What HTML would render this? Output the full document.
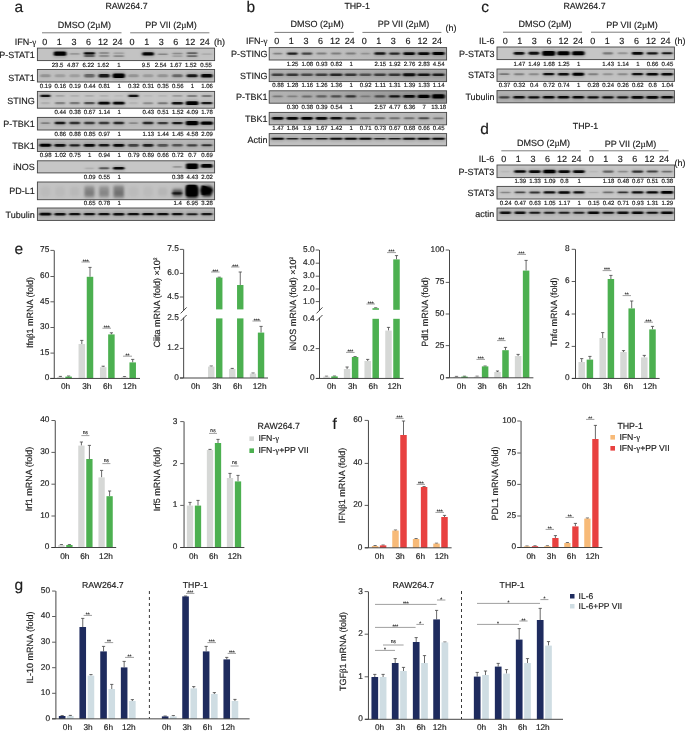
<!DOCTYPE html>
<html><head><meta charset="utf-8"><title>Figure</title>
<style>
html,body{margin:0;padding:0;background:#fff;}
svg{display:block;font-family:"Liberation Sans",sans-serif;text-rendering:geometricPrecision;}
text{stroke:#1c1c1c;stroke-width:0.16px;}
</style></head><body>
<svg width="685" height="731" viewBox="0 0 685 731">
<defs>
<filter id="b1" x="-5%" y="-50%" width="110%" height="200%"><feGaussianBlur stdDeviation="0.85 0.65"/></filter>
<filter id="h1" x="-5%" y="-50%" width="110%" height="200%"><feGaussianBlur stdDeviation="1.8 1.6"/></filter>
<filter id="h2" x="-5%" y="-50%" width="110%" height="200%"><feGaussianBlur stdDeviation="2.2 2.4"/></filter>
<filter id="b2" x="-5%" y="-50%" width="110%" height="200%"><feGaussianBlur stdDeviation="1.2 1.6"/></filter>
</defs>
<rect width="685" height="731" fill="#fff"/>
<text x="14.60" y="11.70" font-size="15.50" text-anchor="start" fill="#1c1c1c">a</text>
<text x="105.40" y="8.80" font-size="8.80" text-anchor="start" fill="#1c1c1c">RAW264.7</text>
<text x="84.30" y="28.00" font-size="9.00" text-anchor="middle" fill="#1c1c1c">DMSO (2<tspan font-family="Liberation Serif, serif">µ</tspan>M)</text>
<text x="171.10" y="28.00" font-size="9.00" text-anchor="middle" fill="#1c1c1c">PP VII (2<tspan font-family="Liberation Serif, serif">µ</tspan>M)</text>
<line x1="42.00" y1="32.80" x2="121.50" y2="32.80" stroke="#7c7c7c" stroke-width="1.00"/>
<line x1="130.20" y1="32.80" x2="209.40" y2="32.80" stroke="#7c7c7c" stroke-width="1.00"/>
<text x="36.20" y="45.20" font-size="9.00" text-anchor="end" fill="#1c1c1c">IFN-<tspan font-family="Liberation Serif, serif">γ</tspan></text>
<text x="44.80" y="44.90" font-size="9.00" text-anchor="middle" fill="#1c1c1c">0</text>
<text x="59.35" y="44.90" font-size="9.00" text-anchor="middle" fill="#1c1c1c">1</text>
<text x="73.90" y="44.90" font-size="9.00" text-anchor="middle" fill="#1c1c1c">3</text>
<text x="88.45" y="44.90" font-size="9.00" text-anchor="middle" fill="#1c1c1c">6</text>
<text x="103.00" y="44.90" font-size="9.00" text-anchor="middle" fill="#1c1c1c">12</text>
<text x="117.55" y="44.90" font-size="9.00" text-anchor="middle" fill="#1c1c1c">24</text>
<text x="132.10" y="44.90" font-size="9.00" text-anchor="middle" fill="#1c1c1c">0</text>
<text x="146.65" y="44.90" font-size="9.00" text-anchor="middle" fill="#1c1c1c">1</text>
<text x="161.20" y="44.90" font-size="9.00" text-anchor="middle" fill="#1c1c1c">3</text>
<text x="175.75" y="44.90" font-size="9.00" text-anchor="middle" fill="#1c1c1c">6</text>
<text x="190.30" y="44.90" font-size="9.00" text-anchor="middle" fill="#1c1c1c">12</text>
<text x="204.85" y="44.90" font-size="9.00" text-anchor="middle" fill="#1c1c1c">24</text>
<text x="214.00" y="45.20" font-size="9.00" text-anchor="start" fill="#1c1c1c">(h)</text>
<clipPath id="c20"><rect x="37.40" y="48.10" width="177.20" height="12.50"/></clipPath>
<rect x="37.40" y="48.10" width="177.20" height="12.50" fill="#c3c3c3"/>
<g clip-path="url(#c20)">
<g filter="url(#h1)">
<rect x="53.12" y="50.15" width="13.90" height="7.00" rx="1.60" fill="#000" fill-opacity="0.20"/>
<rect x="68.99" y="51.95" width="11.50" height="4.00" rx="1.60" fill="#000" fill-opacity="0.04"/>
<rect x="83.16" y="51.15" width="12.50" height="4.40" rx="1.60" fill="#000" fill-opacity="0.19"/>
<rect x="98.33" y="51.30" width="11.50" height="3.50" rx="1.60" fill="#000" fill-opacity="0.06"/>
<rect x="112.75" y="51.40" width="12.00" height="3.50" rx="1.60" fill="#000" fill-opacity="0.04"/>
<rect x="141.54" y="50.95" width="13.10" height="5.80" rx="1.60" fill="#000" fill-opacity="0.19"/>
<rect x="157.01" y="52.35" width="11.50" height="3.60" rx="1.60" fill="#000" fill-opacity="0.06"/>
<rect x="171.68" y="51.80" width="11.50" height="3.50" rx="1.60" fill="#000" fill-opacity="0.05"/>
<rect x="186.10" y="51.30" width="12.00" height="3.70" rx="1.60" fill="#000" fill-opacity="0.09"/>
<rect x="201.02" y="52.25" width="11.50" height="3.80" rx="1.60" fill="#000" fill-opacity="0.02"/>
<rect x="83.41" y="54.00" width="12.00" height="4.20" rx="1.60" fill="#000" fill-opacity="0.09"/>
<rect x="98.33" y="54.30" width="11.50" height="3.60" rx="1.60" fill="#000" fill-opacity="0.06"/>
<rect x="112.75" y="54.20" width="12.00" height="3.80" rx="1.60" fill="#000" fill-opacity="0.05"/>
<rect x="171.68" y="54.35" width="11.50" height="3.50" rx="1.60" fill="#000" fill-opacity="0.04"/>
<rect x="186.10" y="54.25" width="12.00" height="3.70" rx="1.60" fill="#000" fill-opacity="0.08"/>
</g>
<g filter="url(#b1)">
<rect x="53.87" y="51.50" width="12.40" height="4.30" rx="1.60" fill="#000" fill-opacity="1.00"/>
<rect x="69.74" y="53.03" width="10.00" height="1.84" rx="0.92" fill="#000" fill-opacity="0.20"/>
<rect x="83.91" y="52.27" width="11.00" height="2.17" rx="1.08" fill="#000" fill-opacity="0.95"/>
<rect x="99.08" y="52.34" width="10.00" height="1.43" rx="0.71" fill="#000" fill-opacity="0.30"/>
<rect x="113.50" y="52.43" width="10.50" height="1.43" rx="0.71" fill="#000" fill-opacity="0.20"/>
<rect x="142.29" y="52.19" width="11.60" height="3.32" rx="1.60" fill="#000" fill-opacity="0.97"/>
<rect x="157.76" y="53.39" width="10.00" height="1.51" rx="0.76" fill="#000" fill-opacity="0.28"/>
<rect x="172.43" y="52.84" width="10.00" height="1.43" rx="0.71" fill="#000" fill-opacity="0.25"/>
<rect x="186.85" y="52.35" width="10.50" height="1.59" rx="0.80" fill="#000" fill-opacity="0.45"/>
<rect x="201.77" y="53.31" width="10.00" height="1.68" rx="0.84" fill="#000" fill-opacity="0.10"/>
<rect x="84.16" y="55.10" width="10.50" height="2.00" rx="1.00" fill="#000" fill-opacity="0.45"/>
<rect x="99.08" y="55.34" width="10.00" height="1.51" rx="0.76" fill="#000" fill-opacity="0.30"/>
<rect x="113.50" y="55.26" width="10.50" height="1.68" rx="0.84" fill="#000" fill-opacity="0.26"/>
<rect x="172.43" y="55.38" width="10.00" height="1.43" rx="0.71" fill="#000" fill-opacity="0.20"/>
<rect x="186.85" y="55.30" width="10.50" height="1.59" rx="0.80" fill="#000" fill-opacity="0.40"/>
</g>
</g>
<rect x="37.40" y="48.10" width="177.20" height="12.50" fill="none" stroke="#444" stroke-width="0.9"/>
<text x="57.60" y="66.90" font-size="6.00" text-anchor="middle" fill="#222">23.5</text>
<text x="72.90" y="66.90" font-size="6.00" text-anchor="middle" fill="#222">4.87</text>
<text x="88.30" y="66.90" font-size="6.00" text-anchor="middle" fill="#222">6.22</text>
<text x="103.20" y="66.90" font-size="6.00" text-anchor="middle" fill="#222">1.62</text>
<text x="119.00" y="66.90" font-size="6.00" text-anchor="middle" fill="#222">1</text>
<text x="146.00" y="66.90" font-size="6.00" text-anchor="middle" fill="#222">9.5</text>
<text x="160.60" y="66.90" font-size="6.00" text-anchor="middle" fill="#222">2.54</text>
<text x="175.90" y="66.90" font-size="6.00" text-anchor="middle" fill="#222">1.67</text>
<text x="190.80" y="66.90" font-size="6.00" text-anchor="middle" fill="#222">1.52</text>
<text x="206.10" y="66.90" font-size="6.00" text-anchor="middle" fill="#222">0.55</text>
<clipPath id="c69"><rect x="37.40" y="69.50" width="177.20" height="12.50"/></clipPath>
<rect x="37.40" y="69.50" width="177.20" height="12.50" fill="#c0c0c0"/>
<g clip-path="url(#c69)">
<g filter="url(#h1)">
<rect x="39.40" y="72.95" width="12.00" height="5.60" rx="1.60" fill="#000" fill-opacity="0.04"/>
<rect x="54.07" y="72.95" width="12.00" height="5.60" rx="1.60" fill="#000" fill-opacity="0.03"/>
<rect x="68.74" y="72.95" width="12.00" height="5.60" rx="1.60" fill="#000" fill-opacity="0.03"/>
<rect x="83.41" y="72.85" width="12.00" height="5.80" rx="1.60" fill="#000" fill-opacity="0.08"/>
<rect x="97.83" y="72.75" width="12.50" height="6.00" rx="1.60" fill="#000" fill-opacity="0.17"/>
<rect x="112.00" y="72.25" width="13.50" height="7.00" rx="1.60" fill="#000" fill-opacity="0.20"/>
<rect x="127.42" y="72.95" width="12.00" height="5.60" rx="1.60" fill="#000" fill-opacity="0.04"/>
<rect x="142.09" y="72.95" width="12.00" height="5.60" rx="1.60" fill="#000" fill-opacity="0.03"/>
<rect x="156.76" y="72.95" width="12.00" height="5.60" rx="1.60" fill="#000" fill-opacity="0.04"/>
<rect x="171.43" y="72.95" width="12.00" height="5.60" rx="1.60" fill="#000" fill-opacity="0.08"/>
<rect x="185.85" y="72.95" width="12.50" height="5.60" rx="1.60" fill="#000" fill-opacity="0.17"/>
<rect x="200.27" y="72.75" width="13.00" height="6.00" rx="1.60" fill="#000" fill-opacity="0.19"/>
</g>
<g filter="url(#b1)">
<rect x="40.15" y="74.17" width="10.50" height="3.15" rx="1.58" fill="#000" fill-opacity="0.20"/>
<rect x="54.82" y="74.17" width="10.50" height="3.15" rx="1.58" fill="#000" fill-opacity="0.15"/>
<rect x="69.49" y="74.17" width="10.50" height="3.15" rx="1.58" fill="#000" fill-opacity="0.15"/>
<rect x="84.16" y="74.09" width="10.50" height="3.32" rx="1.60" fill="#000" fill-opacity="0.42"/>
<rect x="98.58" y="74.01" width="11.00" height="3.48" rx="1.60" fill="#000" fill-opacity="0.85"/>
<rect x="112.75" y="73.60" width="12.00" height="4.30" rx="1.60" fill="#000" fill-opacity="1.00"/>
<rect x="128.17" y="74.17" width="10.50" height="3.15" rx="1.58" fill="#000" fill-opacity="0.20"/>
<rect x="142.84" y="74.17" width="10.50" height="3.15" rx="1.58" fill="#000" fill-opacity="0.17"/>
<rect x="157.51" y="74.17" width="10.50" height="3.15" rx="1.58" fill="#000" fill-opacity="0.20"/>
<rect x="172.18" y="74.17" width="10.50" height="3.15" rx="1.58" fill="#000" fill-opacity="0.42"/>
<rect x="186.60" y="74.17" width="11.00" height="3.15" rx="1.58" fill="#000" fill-opacity="0.85"/>
<rect x="201.02" y="74.01" width="11.50" height="3.48" rx="1.60" fill="#000" fill-opacity="0.95"/>
</g>
</g>
<rect x="37.40" y="69.50" width="177.20" height="12.50" fill="none" stroke="#444" stroke-width="0.9"/>
<text x="45.70" y="87.70" font-size="6.00" text-anchor="middle" fill="#222">0.19</text>
<text x="60.37" y="87.70" font-size="6.00" text-anchor="middle" fill="#222">0.16</text>
<text x="75.04" y="87.70" font-size="6.00" text-anchor="middle" fill="#222">0.19</text>
<text x="89.71" y="87.70" font-size="6.00" text-anchor="middle" fill="#222">0.44</text>
<text x="104.38" y="87.70" font-size="6.00" text-anchor="middle" fill="#222">0.81</text>
<text x="119.05" y="87.70" font-size="6.00" text-anchor="middle" fill="#222">1</text>
<text x="133.72" y="87.70" font-size="6.00" text-anchor="middle" fill="#222">0.32</text>
<text x="148.39" y="87.70" font-size="6.00" text-anchor="middle" fill="#222">0.31</text>
<text x="163.06" y="87.70" font-size="6.00" text-anchor="middle" fill="#222">0.35</text>
<text x="177.73" y="87.70" font-size="6.00" text-anchor="middle" fill="#222">0.56</text>
<text x="192.40" y="87.70" font-size="6.00" text-anchor="middle" fill="#222">1</text>
<text x="207.07" y="87.70" font-size="6.00" text-anchor="middle" fill="#222">1.06</text>
<clipPath id="c114"><rect x="37.40" y="91.40" width="177.20" height="16.80"/></clipPath>
<rect x="37.40" y="91.40" width="177.20" height="16.80" fill="#c6c6c6"/>
<g clip-path="url(#c114)">
<g filter="url(#h1)">
<rect x="39.65" y="93.74" width="11.50" height="4.40" rx="1.60" fill="#000" fill-opacity="0.18"/>
<rect x="54.82" y="93.94" width="10.50" height="4.00" rx="1.60" fill="#000" fill-opacity="0.03"/>
<rect x="69.49" y="93.94" width="10.50" height="4.00" rx="1.60" fill="#000" fill-opacity="0.02"/>
<rect x="84.16" y="93.94" width="10.50" height="4.00" rx="1.60" fill="#000" fill-opacity="0.02"/>
<rect x="98.83" y="93.94" width="10.50" height="4.00" rx="1.60" fill="#000" fill-opacity="0.02"/>
<rect x="113.50" y="93.94" width="10.50" height="4.00" rx="1.60" fill="#000" fill-opacity="0.01"/>
<rect x="127.67" y="93.74" width="11.50" height="4.40" rx="1.60" fill="#000" fill-opacity="0.18"/>
<rect x="142.84" y="93.94" width="10.50" height="4.00" rx="1.60" fill="#000" fill-opacity="0.01"/>
<rect x="157.51" y="93.94" width="10.50" height="4.00" rx="1.60" fill="#000" fill-opacity="0.02"/>
<rect x="171.68" y="93.94" width="11.50" height="4.00" rx="1.60" fill="#000" fill-opacity="0.04"/>
<rect x="186.35" y="93.84" width="11.50" height="4.20" rx="1.60" fill="#000" fill-opacity="0.06"/>
<rect x="201.02" y="93.84" width="11.50" height="4.20" rx="1.60" fill="#000" fill-opacity="0.07"/>
<rect x="40.15" y="100.96" width="10.50" height="4.40" rx="1.60" fill="#000" fill-opacity="0.02"/>
<rect x="54.32" y="100.96" width="11.50" height="4.40" rx="1.60" fill="#000" fill-opacity="0.06"/>
<rect x="68.99" y="100.96" width="11.50" height="4.40" rx="1.60" fill="#000" fill-opacity="0.07"/>
<rect x="83.41" y="100.86" width="12.00" height="4.60" rx="1.60" fill="#000" fill-opacity="0.11"/>
<rect x="97.58" y="100.56" width="13.00" height="5.20" rx="1.60" fill="#000" fill-opacity="0.19"/>
<rect x="112.25" y="100.66" width="13.00" height="5.00" rx="1.60" fill="#000" fill-opacity="0.19"/>
<rect x="128.17" y="100.96" width="10.50" height="4.40" rx="1.60" fill="#000" fill-opacity="0.02"/>
<rect x="142.34" y="101.06" width="11.50" height="4.20" rx="1.60" fill="#000" fill-opacity="0.05"/>
<rect x="157.01" y="101.06" width="11.50" height="4.20" rx="1.60" fill="#000" fill-opacity="0.07"/>
<rect x="171.18" y="100.76" width="12.50" height="4.80" rx="1.60" fill="#000" fill-opacity="0.18"/>
<rect x="185.10" y="99.96" width="14.00" height="6.40" rx="1.60" fill="#000" fill-opacity="0.20"/>
<rect x="200.52" y="100.96" width="12.50" height="4.40" rx="1.60" fill="#000" fill-opacity="0.17"/>
</g>
<g filter="url(#b1)">
<rect x="40.40" y="94.85" width="10.00" height="2.17" rx="1.08" fill="#000" fill-opacity="0.90"/>
<rect x="55.57" y="95.02" width="9.00" height="1.84" rx="0.92" fill="#000" fill-opacity="0.15"/>
<rect x="70.24" y="95.02" width="9.00" height="1.84" rx="0.92" fill="#000" fill-opacity="0.10"/>
<rect x="84.91" y="95.02" width="9.00" height="1.84" rx="0.92" fill="#000" fill-opacity="0.12"/>
<rect x="99.58" y="95.02" width="9.00" height="1.84" rx="0.92" fill="#000" fill-opacity="0.10"/>
<rect x="114.25" y="95.02" width="9.00" height="1.84" rx="0.92" fill="#000" fill-opacity="0.06"/>
<rect x="128.42" y="94.85" width="10.00" height="2.17" rx="1.08" fill="#000" fill-opacity="0.90"/>
<rect x="143.59" y="95.02" width="9.00" height="1.84" rx="0.92" fill="#000" fill-opacity="0.06"/>
<rect x="158.26" y="95.02" width="9.00" height="1.84" rx="0.92" fill="#000" fill-opacity="0.08"/>
<rect x="172.43" y="95.02" width="10.00" height="1.84" rx="0.92" fill="#000" fill-opacity="0.20"/>
<rect x="187.10" y="94.93" width="10.00" height="2.00" rx="1.00" fill="#000" fill-opacity="0.32"/>
<rect x="201.77" y="94.93" width="10.00" height="2.00" rx="1.00" fill="#000" fill-opacity="0.35"/>
<rect x="40.90" y="102.08" width="9.00" height="2.17" rx="1.08" fill="#000" fill-opacity="0.10"/>
<rect x="55.07" y="102.08" width="10.00" height="2.17" rx="1.08" fill="#000" fill-opacity="0.30"/>
<rect x="69.74" y="102.08" width="10.00" height="2.17" rx="1.08" fill="#000" fill-opacity="0.35"/>
<rect x="84.16" y="101.99" width="10.50" height="2.33" rx="1.17" fill="#000" fill-opacity="0.55"/>
<rect x="98.33" y="101.75" width="11.50" height="2.82" rx="1.41" fill="#000" fill-opacity="0.95"/>
<rect x="113.00" y="101.83" width="11.50" height="2.66" rx="1.33" fill="#000" fill-opacity="0.95"/>
<rect x="128.92" y="102.08" width="9.00" height="2.17" rx="1.08" fill="#000" fill-opacity="0.08"/>
<rect x="143.09" y="102.16" width="10.00" height="2.00" rx="1.00" fill="#000" fill-opacity="0.25"/>
<rect x="157.76" y="102.16" width="10.00" height="2.00" rx="1.00" fill="#000" fill-opacity="0.35"/>
<rect x="171.93" y="101.91" width="11.00" height="2.50" rx="1.25" fill="#000" fill-opacity="0.90"/>
<rect x="185.85" y="101.26" width="12.50" height="3.81" rx="1.60" fill="#000" fill-opacity="1.00"/>
<rect x="201.27" y="102.08" width="11.00" height="2.17" rx="1.08" fill="#000" fill-opacity="0.85"/>
</g>
</g>
<rect x="37.40" y="91.40" width="177.20" height="16.80" fill="none" stroke="#444" stroke-width="0.9"/>
<text x="60.37" y="113.70" font-size="6.00" text-anchor="middle" fill="#222">0.44</text>
<text x="75.04" y="113.70" font-size="6.00" text-anchor="middle" fill="#222">0.38</text>
<text x="89.71" y="113.70" font-size="6.00" text-anchor="middle" fill="#222">0.67</text>
<text x="104.38" y="113.70" font-size="6.00" text-anchor="middle" fill="#222">1.14</text>
<text x="119.05" y="113.70" font-size="6.00" text-anchor="middle" fill="#222">1</text>
<text x="148.39" y="113.70" font-size="6.00" text-anchor="middle" fill="#222">0.43</text>
<text x="163.06" y="113.70" font-size="6.00" text-anchor="middle" fill="#222">0.51</text>
<text x="177.73" y="113.70" font-size="6.00" text-anchor="middle" fill="#222">1.52</text>
<text x="192.40" y="113.70" font-size="6.00" text-anchor="middle" fill="#222">4.09</text>
<text x="207.07" y="113.70" font-size="6.00" text-anchor="middle" fill="#222">1.78</text>
<clipPath id="c181"><rect x="37.40" y="117.40" width="177.20" height="12.60"/></clipPath>
<rect x="37.40" y="117.40" width="177.20" height="12.60" fill="#bdbdbd"/>
<g clip-path="url(#c181)">
<g filter="url(#h1)">
<rect x="40.15" y="121.07" width="10.50" height="4.00" rx="1.60" fill="#000" fill-opacity="0.06"/>
<rect x="54.07" y="120.67" width="12.00" height="4.80" rx="1.60" fill="#000" fill-opacity="0.17"/>
<rect x="68.74" y="120.67" width="12.00" height="4.80" rx="1.60" fill="#000" fill-opacity="0.14"/>
<rect x="83.41" y="120.67" width="12.00" height="4.80" rx="1.60" fill="#000" fill-opacity="0.13"/>
<rect x="98.08" y="120.67" width="12.00" height="4.80" rx="1.60" fill="#000" fill-opacity="0.13"/>
<rect x="112.75" y="120.67" width="12.00" height="4.80" rx="1.60" fill="#000" fill-opacity="0.15"/>
<rect x="128.17" y="121.07" width="10.50" height="4.00" rx="1.60" fill="#000" fill-opacity="0.05"/>
<rect x="142.09" y="120.67" width="12.00" height="4.80" rx="1.60" fill="#000" fill-opacity="0.15"/>
<rect x="156.76" y="120.77" width="12.00" height="4.60" rx="1.60" fill="#000" fill-opacity="0.13"/>
<rect x="171.43" y="120.77" width="12.00" height="4.60" rx="1.60" fill="#000" fill-opacity="0.17"/>
<rect x="185.10" y="119.57" width="14.00" height="7.00" rx="1.60" fill="#000" fill-opacity="0.20"/>
<rect x="200.02" y="120.17" width="13.50" height="5.80" rx="1.60" fill="#000" fill-opacity="0.20"/>
</g>
<g filter="url(#b1)">
<rect x="40.90" y="122.15" width="9.00" height="1.84" rx="0.92" fill="#000" fill-opacity="0.30"/>
<rect x="54.82" y="121.82" width="10.50" height="2.50" rx="1.25" fill="#000" fill-opacity="0.85"/>
<rect x="69.49" y="121.82" width="10.50" height="2.50" rx="1.25" fill="#000" fill-opacity="0.70"/>
<rect x="84.16" y="121.82" width="10.50" height="2.50" rx="1.25" fill="#000" fill-opacity="0.65"/>
<rect x="98.83" y="121.82" width="10.50" height="2.50" rx="1.25" fill="#000" fill-opacity="0.65"/>
<rect x="113.50" y="121.82" width="10.50" height="2.50" rx="1.25" fill="#000" fill-opacity="0.75"/>
<rect x="128.92" y="122.15" width="9.00" height="1.84" rx="0.92" fill="#000" fill-opacity="0.25"/>
<rect x="142.84" y="121.82" width="10.50" height="2.50" rx="1.25" fill="#000" fill-opacity="0.75"/>
<rect x="157.51" y="121.90" width="10.50" height="2.33" rx="1.17" fill="#000" fill-opacity="0.65"/>
<rect x="172.18" y="121.90" width="10.50" height="2.33" rx="1.17" fill="#000" fill-opacity="0.85"/>
<rect x="185.85" y="120.92" width="12.50" height="4.30" rx="1.60" fill="#000" fill-opacity="1.00"/>
<rect x="200.77" y="121.41" width="12.00" height="3.32" rx="1.60" fill="#000" fill-opacity="1.00"/>
</g>
</g>
<rect x="37.40" y="117.40" width="177.20" height="12.60" fill="none" stroke="#444" stroke-width="0.9"/>
<text x="60.37" y="135.70" font-size="6.00" text-anchor="middle" fill="#222">0.86</text>
<text x="75.04" y="135.70" font-size="6.00" text-anchor="middle" fill="#222">0.88</text>
<text x="89.71" y="135.70" font-size="6.00" text-anchor="middle" fill="#222">0.85</text>
<text x="104.38" y="135.70" font-size="6.00" text-anchor="middle" fill="#222">0.97</text>
<text x="119.05" y="135.70" font-size="6.00" text-anchor="middle" fill="#222">1</text>
<text x="148.39" y="135.70" font-size="6.00" text-anchor="middle" fill="#222">1.13</text>
<text x="163.06" y="135.70" font-size="6.00" text-anchor="middle" fill="#222">1.44</text>
<text x="177.73" y="135.70" font-size="6.00" text-anchor="middle" fill="#222">1.45</text>
<text x="192.40" y="135.70" font-size="6.00" text-anchor="middle" fill="#222">4.58</text>
<text x="207.07" y="135.70" font-size="6.00" text-anchor="middle" fill="#222">2.09</text>
<clipPath id="c224"><rect x="37.40" y="139.20" width="177.20" height="12.30"/></clipPath>
<rect x="37.40" y="139.20" width="177.20" height="12.30" fill="#b8b8b8"/>
<g clip-path="url(#c224)">
<g filter="url(#h1)">
<rect x="38.90" y="142.65" width="13.00" height="5.40" rx="1.60" fill="#000" fill-opacity="0.20"/>
<rect x="53.82" y="142.85" width="12.50" height="5.00" rx="1.60" fill="#000" fill-opacity="0.18"/>
<rect x="68.74" y="143.05" width="12.00" height="4.60" rx="1.60" fill="#000" fill-opacity="0.16"/>
<rect x="83.16" y="142.85" width="12.50" height="5.00" rx="1.60" fill="#000" fill-opacity="0.19"/>
<rect x="98.08" y="142.95" width="12.00" height="4.80" rx="1.60" fill="#000" fill-opacity="0.17"/>
<rect x="112.50" y="142.75" width="12.50" height="5.20" rx="1.60" fill="#000" fill-opacity="0.19"/>
<rect x="127.42" y="142.75" width="12.00" height="5.20" rx="1.60" fill="#000" fill-opacity="0.12"/>
<rect x="142.09" y="142.85" width="12.00" height="5.00" rx="1.60" fill="#000" fill-opacity="0.16"/>
<rect x="156.76" y="142.85" width="12.00" height="5.00" rx="1.60" fill="#000" fill-opacity="0.10"/>
<rect x="171.43" y="142.95" width="12.00" height="4.80" rx="1.60" fill="#000" fill-opacity="0.10"/>
<rect x="186.10" y="143.15" width="12.00" height="4.40" rx="1.60" fill="#000" fill-opacity="0.12"/>
<rect x="200.77" y="143.25" width="12.00" height="4.20" rx="1.60" fill="#000" fill-opacity="0.14"/>
</g>
<g filter="url(#b1)">
<rect x="39.65" y="143.86" width="11.50" height="2.99" rx="1.49" fill="#000" fill-opacity="1.00"/>
<rect x="54.57" y="144.02" width="11.00" height="2.66" rx="1.33" fill="#000" fill-opacity="0.90"/>
<rect x="69.49" y="144.18" width="10.50" height="2.33" rx="1.17" fill="#000" fill-opacity="0.80"/>
<rect x="83.91" y="144.02" width="11.00" height="2.66" rx="1.33" fill="#000" fill-opacity="0.95"/>
<rect x="98.83" y="144.10" width="10.50" height="2.50" rx="1.25" fill="#000" fill-opacity="0.85"/>
<rect x="113.25" y="143.94" width="11.00" height="2.82" rx="1.41" fill="#000" fill-opacity="0.95"/>
<rect x="128.17" y="143.94" width="10.50" height="2.82" rx="1.41" fill="#000" fill-opacity="0.60"/>
<rect x="142.84" y="144.02" width="10.50" height="2.66" rx="1.33" fill="#000" fill-opacity="0.80"/>
<rect x="157.51" y="144.02" width="10.50" height="2.66" rx="1.33" fill="#000" fill-opacity="0.50"/>
<rect x="172.18" y="144.10" width="10.50" height="2.50" rx="1.25" fill="#000" fill-opacity="0.50"/>
<rect x="186.85" y="144.27" width="10.50" height="2.17" rx="1.08" fill="#000" fill-opacity="0.60"/>
<rect x="201.52" y="144.35" width="10.50" height="2.00" rx="1.00" fill="#000" fill-opacity="0.70"/>
</g>
</g>
<rect x="37.40" y="139.20" width="177.20" height="12.30" fill="none" stroke="#444" stroke-width="0.9"/>
<text x="45.70" y="157.30" font-size="6.00" text-anchor="middle" fill="#222">0.98</text>
<text x="60.37" y="157.30" font-size="6.00" text-anchor="middle" fill="#222">1.02</text>
<text x="75.04" y="157.30" font-size="6.00" text-anchor="middle" fill="#222">0.75</text>
<text x="89.71" y="157.30" font-size="6.00" text-anchor="middle" fill="#222">1</text>
<text x="104.38" y="157.30" font-size="6.00" text-anchor="middle" fill="#222">0.94</text>
<text x="119.05" y="157.30" font-size="6.00" text-anchor="middle" fill="#222">1</text>
<text x="133.72" y="157.30" font-size="6.00" text-anchor="middle" fill="#222">0.79</text>
<text x="148.39" y="157.30" font-size="6.00" text-anchor="middle" fill="#222">0.89</text>
<text x="163.06" y="157.30" font-size="6.00" text-anchor="middle" fill="#222">0.66</text>
<text x="177.73" y="157.30" font-size="6.00" text-anchor="middle" fill="#222">0.72</text>
<text x="192.40" y="157.30" font-size="6.00" text-anchor="middle" fill="#222">0.7</text>
<text x="207.07" y="157.30" font-size="6.00" text-anchor="middle" fill="#222">0.69</text>
<clipPath id="c269"><rect x="37.40" y="160.80" width="177.20" height="12.10"/></clipPath>
<rect x="37.40" y="160.80" width="177.20" height="12.10" fill="#c6c6c6"/>
<g clip-path="url(#c269)">
<g filter="url(#h1)">
<rect x="84.16" y="166.40" width="10.50" height="3.80" rx="1.60" fill="#000" fill-opacity="0.02"/>
<rect x="98.33" y="166.20" width="11.50" height="4.20" rx="1.60" fill="#000" fill-opacity="0.10"/>
<rect x="112.50" y="165.90" width="12.50" height="4.80" rx="1.60" fill="#000" fill-opacity="0.19"/>
<rect x="172.18" y="165.00" width="10.50" height="3.80" rx="1.60" fill="#000" fill-opacity="0.04"/>
<rect x="185.35" y="162.00" width="13.50" height="8.40" rx="1.60" fill="#000" fill-opacity="0.20"/>
<rect x="200.27" y="162.70" width="13.00" height="6.40" rx="1.60" fill="#000" fill-opacity="0.19"/>
</g>
<g filter="url(#b1)">
<rect x="84.91" y="167.46" width="9.00" height="1.68" rx="0.84" fill="#000" fill-opacity="0.10"/>
<rect x="99.08" y="167.30" width="10.00" height="2.00" rx="1.00" fill="#000" fill-opacity="0.50"/>
<rect x="113.25" y="167.05" width="11.00" height="2.50" rx="1.25" fill="#000" fill-opacity="0.95"/>
<rect x="172.93" y="166.06" width="9.00" height="1.68" rx="0.84" fill="#000" fill-opacity="0.22"/>
<rect x="186.10" y="163.48" width="12.00" height="5.45" rx="1.60" fill="#000" fill-opacity="1.00"/>
<rect x="201.02" y="164.00" width="11.50" height="3.81" rx="1.60" fill="#000" fill-opacity="0.97"/>
</g>
</g>
<rect x="37.40" y="160.80" width="177.20" height="12.10" fill="none" stroke="#444" stroke-width="0.9"/>
<text x="89.71" y="178.90" font-size="6.00" text-anchor="middle" fill="#222">0.09</text>
<text x="104.38" y="178.90" font-size="6.00" text-anchor="middle" fill="#222">0.55</text>
<text x="119.05" y="178.90" font-size="6.00" text-anchor="middle" fill="#222">1</text>
<text x="177.73" y="178.90" font-size="6.00" text-anchor="middle" fill="#222">0.38</text>
<text x="192.40" y="178.90" font-size="6.00" text-anchor="middle" fill="#222">4.43</text>
<text x="207.07" y="178.90" font-size="6.00" text-anchor="middle" fill="#222">2.02</text>
<clipPath id="c296"><rect x="37.40" y="182.00" width="177.20" height="17.70"/></clipPath>
<rect x="37.40" y="182.00" width="177.20" height="17.70" fill="#c3c3c3"/>
<g clip-path="url(#c296)">
<g filter="url(#h2)">
<rect x="40.15" y="186.23" width="10.50" height="11.00" rx="1.60" fill="#000" fill-opacity="0.01"/>
<rect x="54.82" y="186.23" width="10.50" height="11.00" rx="1.60" fill="#000" fill-opacity="0.01"/>
<rect x="69.49" y="186.23" width="10.50" height="11.00" rx="1.60" fill="#000" fill-opacity="0.01"/>
<rect x="83.66" y="185.23" width="11.50" height="13.00" rx="1.60" fill="#000" fill-opacity="0.05"/>
<rect x="98.33" y="185.23" width="11.50" height="13.00" rx="1.60" fill="#000" fill-opacity="0.04"/>
<rect x="112.75" y="184.73" width="12.00" height="14.00" rx="1.60" fill="#000" fill-opacity="0.06"/>
<rect x="128.17" y="186.23" width="10.50" height="11.00" rx="1.60" fill="#000" fill-opacity="0.01"/>
<rect x="142.84" y="186.23" width="10.50" height="11.00" rx="1.60" fill="#000" fill-opacity="0.01"/>
<rect x="157.51" y="186.73" width="10.50" height="10.00" rx="1.60" fill="#000" fill-opacity="0.01"/>
<rect x="171.68" y="189.68" width="11.50" height="6.50" rx="1.60" fill="#000" fill-opacity="0.09"/>
<rect x="185.35" y="185.18" width="13.50" height="12.50" rx="1.60" fill="#000" fill-opacity="0.20"/>
<rect x="201.27" y="185.38" width="11.00" height="11.50" rx="1.60" fill="#000" fill-opacity="0.20"/>
<rect x="84.16" y="189.47" width="10.50" height="7.00" rx="1.60" fill="#000" fill-opacity="0.02"/>
<rect x="98.83" y="189.47" width="10.50" height="7.00" rx="1.60" fill="#000" fill-opacity="0.02"/>
<rect x="113.50" y="189.47" width="10.50" height="7.00" rx="1.60" fill="#000" fill-opacity="0.02"/>
<rect x="171.68" y="187.97" width="11.50" height="10.00" rx="1.60" fill="#000" fill-opacity="0.06"/>
<rect x="185.85" y="187.47" width="12.50" height="11.00" rx="1.60" fill="#000" fill-opacity="0.18"/>
<rect x="201.02" y="187.47" width="11.50" height="11.00" rx="1.60" fill="#000" fill-opacity="0.00"/>
<rect x="199.77" y="187.00" width="14.00" height="6.50" rx="1.60" fill="#000" fill-opacity="0.19"/>
</g>
<g filter="url(#b2)">
<rect x="40.90" y="187.23" width="9.00" height="9.00" rx="1.60" fill="#000" fill-opacity="0.03"/>
<rect x="55.57" y="187.23" width="9.00" height="9.00" rx="1.60" fill="#000" fill-opacity="0.03"/>
<rect x="70.24" y="187.23" width="9.00" height="9.00" rx="1.60" fill="#000" fill-opacity="0.04"/>
<rect x="84.41" y="186.23" width="10.00" height="11.00" rx="1.60" fill="#000" fill-opacity="0.25"/>
<rect x="99.08" y="186.23" width="10.00" height="11.00" rx="1.60" fill="#000" fill-opacity="0.22"/>
<rect x="113.50" y="185.73" width="10.50" height="12.00" rx="1.60" fill="#000" fill-opacity="0.30"/>
<rect x="128.92" y="187.23" width="9.00" height="9.00" rx="1.60" fill="#000" fill-opacity="0.03"/>
<rect x="143.59" y="187.23" width="9.00" height="9.00" rx="1.60" fill="#000" fill-opacity="0.03"/>
<rect x="158.26" y="187.73" width="9.00" height="8.00" rx="1.60" fill="#000" fill-opacity="0.06"/>
<rect x="172.43" y="190.68" width="10.00" height="4.50" rx="1.60" fill="#000" fill-opacity="0.45"/>
<rect x="186.10" y="186.18" width="12.00" height="10.50" rx="1.60" fill="#000" fill-opacity="1.00"/>
<rect x="202.02" y="186.38" width="9.50" height="9.50" rx="1.60" fill="#000" fill-opacity="1.00"/>
<rect x="84.91" y="190.47" width="9.00" height="5.00" rx="1.60" fill="#000" fill-opacity="0.10"/>
<rect x="99.58" y="190.47" width="9.00" height="5.00" rx="1.60" fill="#000" fill-opacity="0.08"/>
<rect x="114.25" y="190.47" width="9.00" height="5.00" rx="1.60" fill="#000" fill-opacity="0.12"/>
<rect x="172.43" y="188.97" width="10.00" height="8.00" rx="1.60" fill="#000" fill-opacity="0.30"/>
<rect x="186.60" y="188.47" width="11.00" height="9.00" rx="1.60" fill="#000" fill-opacity="0.90"/>
<rect x="201.77" y="188.47" width="10.00" height="9.00" rx="1.60" fill="#000" fill-opacity="0.00"/>
<rect x="200.52" y="188.00" width="12.50" height="4.50" rx="1.60" fill="#000" fill-opacity="0.95"/>
</g>
</g>
<rect x="37.40" y="182.00" width="177.20" height="17.70" fill="none" stroke="#444" stroke-width="0.9"/>
<g filter="url(#b1)"><rect x="186.2" y="184.8" width="11.0" height="11.4" rx="2.2" fill="#000"/><rect x="172.2" y="192.2" width="9.6" height="2.2" rx="1.1" fill="#000" fill-opacity="0.7"/><path d="M201.6 186.2 Q201.6 185.2 203 185.4 L207 186.4 L211.2 190.2 L207 194 L203 195.0 Q201.6 195.2 201.6 194 Z" fill="#000"/></g>
<text x="89.71" y="205.10" font-size="6.00" text-anchor="middle" fill="#222">0.65</text>
<text x="104.38" y="205.10" font-size="6.00" text-anchor="middle" fill="#222">0.78</text>
<text x="119.05" y="205.10" font-size="6.00" text-anchor="middle" fill="#222">1</text>
<text x="177.73" y="205.10" font-size="6.00" text-anchor="middle" fill="#222">1.4</text>
<text x="192.40" y="205.10" font-size="6.00" text-anchor="middle" fill="#222">6.95</text>
<text x="207.07" y="205.10" font-size="6.00" text-anchor="middle" fill="#222">3.28</text>
<clipPath id="c350"><rect x="37.40" y="208.00" width="177.20" height="12.40"/></clipPath>
<rect x="37.40" y="208.00" width="177.20" height="12.40" fill="#b9b9b9"/>
<g clip-path="url(#c350)">
<g filter="url(#h1)">
<rect x="38.90" y="211.70" width="13.00" height="5.00" rx="1.60" fill="#000" fill-opacity="0.19"/>
<rect x="53.82" y="211.80" width="12.50" height="4.80" rx="1.60" fill="#000" fill-opacity="0.18"/>
<rect x="68.49" y="211.90" width="12.50" height="4.60" rx="1.60" fill="#000" fill-opacity="0.18"/>
<rect x="83.16" y="212.00" width="12.50" height="4.40" rx="1.60" fill="#000" fill-opacity="0.18"/>
<rect x="97.83" y="211.90" width="12.50" height="4.60" rx="1.60" fill="#000" fill-opacity="0.18"/>
<rect x="112.50" y="211.80" width="12.50" height="4.80" rx="1.60" fill="#000" fill-opacity="0.18"/>
<rect x="126.92" y="211.90" width="13.00" height="4.60" rx="1.60" fill="#000" fill-opacity="0.18"/>
<rect x="141.59" y="211.90" width="13.00" height="4.60" rx="1.60" fill="#000" fill-opacity="0.19"/>
<rect x="156.26" y="211.90" width="13.00" height="4.60" rx="1.60" fill="#000" fill-opacity="0.18"/>
<rect x="171.18" y="212.00" width="12.50" height="4.40" rx="1.60" fill="#000" fill-opacity="0.18"/>
<rect x="185.85" y="212.10" width="12.50" height="4.20" rx="1.60" fill="#000" fill-opacity="0.16"/>
<rect x="200.52" y="212.00" width="12.50" height="4.40" rx="1.60" fill="#000" fill-opacity="0.17"/>
</g>
<g filter="url(#b1)">
<rect x="39.65" y="212.87" width="11.50" height="2.66" rx="1.33" fill="#000" fill-opacity="0.95"/>
<rect x="54.57" y="212.95" width="11.00" height="2.50" rx="1.25" fill="#000" fill-opacity="0.90"/>
<rect x="69.24" y="213.03" width="11.00" height="2.33" rx="1.17" fill="#000" fill-opacity="0.90"/>
<rect x="83.91" y="213.12" width="11.00" height="2.17" rx="1.08" fill="#000" fill-opacity="0.90"/>
<rect x="98.58" y="213.03" width="11.00" height="2.33" rx="1.17" fill="#000" fill-opacity="0.90"/>
<rect x="113.25" y="212.95" width="11.00" height="2.50" rx="1.25" fill="#000" fill-opacity="0.90"/>
<rect x="127.67" y="213.03" width="11.50" height="2.33" rx="1.17" fill="#000" fill-opacity="0.90"/>
<rect x="142.34" y="213.03" width="11.50" height="2.33" rx="1.17" fill="#000" fill-opacity="0.95"/>
<rect x="157.01" y="213.03" width="11.50" height="2.33" rx="1.17" fill="#000" fill-opacity="0.90"/>
<rect x="171.93" y="213.12" width="11.00" height="2.17" rx="1.08" fill="#000" fill-opacity="0.90"/>
<rect x="186.60" y="213.20" width="11.00" height="2.00" rx="1.00" fill="#000" fill-opacity="0.80"/>
<rect x="201.27" y="213.12" width="11.00" height="2.17" rx="1.08" fill="#000" fill-opacity="0.85"/>
</g>
</g>
<rect x="37.40" y="208.00" width="177.20" height="12.40" fill="none" stroke="#444" stroke-width="0.9"/>
<text x="34.80" y="57.60" font-size="9.00" text-anchor="end" fill="#1c1c1c">P-STAT1</text>
<text x="34.80" y="80.60" font-size="9.00" text-anchor="end" fill="#1c1c1c">STAT1</text>
<text x="34.80" y="104.00" font-size="9.00" text-anchor="end" fill="#1c1c1c">STING</text>
<text x="34.80" y="127.00" font-size="9.00" text-anchor="end" fill="#1c1c1c">P-TBK1</text>
<text x="34.80" y="148.60" font-size="9.00" text-anchor="end" fill="#1c1c1c">TBK1</text>
<text x="34.80" y="170.00" font-size="9.00" text-anchor="end" fill="#1c1c1c">iNOS</text>
<text x="34.80" y="194.00" font-size="9.00" text-anchor="end" fill="#1c1c1c">PD-L1</text>
<text x="34.80" y="217.50" font-size="9.00" text-anchor="end" fill="#1c1c1c">Tubulin</text>
<text x="246.60" y="11.70" font-size="15.50" text-anchor="start" fill="#1c1c1c">b</text>
<text x="344.40" y="8.50" font-size="8.80" text-anchor="start" fill="#1c1c1c">THP-1</text>
<text x="317.10" y="27.40" font-size="9.00" text-anchor="middle" fill="#1c1c1c">DMSO (2<tspan font-family="Liberation Serif, serif">µ</tspan>M)</text>
<text x="403.50" y="27.40" font-size="9.00" text-anchor="middle" fill="#1c1c1c">PP VII (2<tspan font-family="Liberation Serif, serif">µ</tspan>M)</text>
<line x1="274.40" y1="32.40" x2="353.80" y2="32.40" stroke="#7c7c7c" stroke-width="1.00"/>
<line x1="362.40" y1="32.40" x2="441.40" y2="32.40" stroke="#7c7c7c" stroke-width="1.00"/>
<text x="267.60" y="44.40" font-size="9.00" text-anchor="end" fill="#1c1c1c">IFN-<tspan font-family="Liberation Serif, serif">γ</tspan></text>
<text x="276.80" y="44.10" font-size="9.00" text-anchor="middle" fill="#1c1c1c">0</text>
<text x="291.37" y="44.10" font-size="9.00" text-anchor="middle" fill="#1c1c1c">1</text>
<text x="305.94" y="44.10" font-size="9.00" text-anchor="middle" fill="#1c1c1c">3</text>
<text x="320.51" y="44.10" font-size="9.00" text-anchor="middle" fill="#1c1c1c">6</text>
<text x="335.08" y="44.10" font-size="9.00" text-anchor="middle" fill="#1c1c1c">12</text>
<text x="349.65" y="44.10" font-size="9.00" text-anchor="middle" fill="#1c1c1c">24</text>
<text x="364.22" y="44.10" font-size="9.00" text-anchor="middle" fill="#1c1c1c">0</text>
<text x="378.79" y="44.10" font-size="9.00" text-anchor="middle" fill="#1c1c1c">1</text>
<text x="393.36" y="44.10" font-size="9.00" text-anchor="middle" fill="#1c1c1c">3</text>
<text x="407.93" y="44.10" font-size="9.00" text-anchor="middle" fill="#1c1c1c">6</text>
<text x="422.50" y="44.10" font-size="9.00" text-anchor="middle" fill="#1c1c1c">12</text>
<text x="437.07" y="44.10" font-size="9.00" text-anchor="middle" fill="#1c1c1c">24</text>
<text x="445.60" y="31.00" font-size="9.00" text-anchor="start" fill="#1c1c1c">(h)</text>
<clipPath id="c411"><rect x="269.20" y="47.60" width="177.40" height="12.40"/></clipPath>
<linearGradient id="g412" x1="0" x2="1" y1="0" y2="0"><stop offset="0.000" stop-color="#c4c4c4"/><stop offset="0.333" stop-color="#c0c0c0"/><stop offset="0.667" stop-color="#b8b8b8"/><stop offset="1.000" stop-color="#b0b0b0"/></linearGradient>
<rect x="269.20" y="47.60" width="177.40" height="12.40" fill="url(#g412)"/>
<g clip-path="url(#c411)">
<g filter="url(#h1)">
<rect x="272.45" y="51.55" width="10.50" height="4.00" rx="1.60" fill="#000" fill-opacity="0.06"/>
<rect x="286.31" y="51.25" width="12.00" height="4.60" rx="1.60" fill="#000" fill-opacity="0.16"/>
<rect x="300.92" y="51.35" width="12.00" height="4.40" rx="1.60" fill="#000" fill-opacity="0.12"/>
<rect x="315.78" y="51.45" width="11.50" height="4.20" rx="1.60" fill="#000" fill-opacity="0.06"/>
<rect x="330.39" y="51.45" width="11.50" height="4.20" rx="1.60" fill="#000" fill-opacity="0.06"/>
<rect x="345.00" y="51.45" width="11.50" height="4.20" rx="1.60" fill="#000" fill-opacity="0.06"/>
<rect x="360.11" y="51.55" width="10.50" height="4.00" rx="1.60" fill="#000" fill-opacity="0.04"/>
<rect x="373.72" y="51.15" width="12.50" height="4.80" rx="1.60" fill="#000" fill-opacity="0.17"/>
<rect x="388.58" y="51.25" width="12.00" height="4.60" rx="1.60" fill="#000" fill-opacity="0.15"/>
<rect x="402.69" y="51.05" width="13.00" height="5.00" rx="1.60" fill="#000" fill-opacity="0.19"/>
<rect x="417.30" y="51.05" width="13.00" height="5.00" rx="1.60" fill="#000" fill-opacity="0.19"/>
<rect x="431.66" y="50.85" width="13.50" height="5.40" rx="1.60" fill="#000" fill-opacity="0.20"/>
</g>
<g filter="url(#b1)">
<rect x="273.20" y="52.63" width="9.00" height="1.84" rx="0.92" fill="#000" fill-opacity="0.30"/>
<rect x="287.06" y="52.39" width="10.50" height="2.33" rx="1.17" fill="#000" fill-opacity="0.80"/>
<rect x="301.67" y="52.47" width="10.50" height="2.17" rx="1.08" fill="#000" fill-opacity="0.60"/>
<rect x="316.53" y="52.55" width="10.00" height="2.00" rx="1.00" fill="#000" fill-opacity="0.30"/>
<rect x="331.14" y="52.55" width="10.00" height="2.00" rx="1.00" fill="#000" fill-opacity="0.30"/>
<rect x="345.75" y="52.55" width="10.00" height="2.00" rx="1.00" fill="#000" fill-opacity="0.30"/>
<rect x="360.86" y="52.63" width="9.00" height="1.84" rx="0.92" fill="#000" fill-opacity="0.20"/>
<rect x="374.47" y="52.30" width="11.00" height="2.50" rx="1.25" fill="#000" fill-opacity="0.85"/>
<rect x="389.33" y="52.39" width="10.50" height="2.33" rx="1.17" fill="#000" fill-opacity="0.75"/>
<rect x="403.44" y="52.22" width="11.50" height="2.66" rx="1.33" fill="#000" fill-opacity="0.95"/>
<rect x="418.05" y="52.22" width="11.50" height="2.66" rx="1.33" fill="#000" fill-opacity="0.95"/>
<rect x="432.41" y="52.06" width="12.00" height="2.99" rx="1.49" fill="#000" fill-opacity="1.00"/>
</g>
</g>
<rect x="269.20" y="47.60" width="177.40" height="12.40" fill="none" stroke="#444" stroke-width="0.9"/>
<text x="292.61" y="65.70" font-size="6.00" text-anchor="middle" fill="#222">1.25</text>
<text x="307.22" y="65.70" font-size="6.00" text-anchor="middle" fill="#222">1.08</text>
<text x="321.83" y="65.70" font-size="6.00" text-anchor="middle" fill="#222">0.93</text>
<text x="336.44" y="65.70" font-size="6.00" text-anchor="middle" fill="#222">0.82</text>
<text x="351.05" y="65.70" font-size="6.00" text-anchor="middle" fill="#222">1</text>
<text x="380.27" y="65.70" font-size="6.00" text-anchor="middle" fill="#222">2.15</text>
<text x="394.88" y="65.70" font-size="6.00" text-anchor="middle" fill="#222">1.92</text>
<text x="409.49" y="65.70" font-size="6.00" text-anchor="middle" fill="#222">2.76</text>
<text x="424.10" y="65.70" font-size="6.00" text-anchor="middle" fill="#222">2.83</text>
<text x="438.71" y="65.70" font-size="6.00" text-anchor="middle" fill="#222">4.54</text>
<clipPath id="c455"><rect x="269.20" y="69.20" width="177.40" height="12.40"/></clipPath>
<linearGradient id="g456" x1="0" x2="1" y1="0" y2="0"><stop offset="0.000" stop-color="#b4b4b4"/><stop offset="0.500" stop-color="#b0b0b0"/><stop offset="1.000" stop-color="#a8a8a8"/></linearGradient>
<rect x="269.20" y="69.20" width="177.40" height="12.40" fill="url(#g456)"/>
<g clip-path="url(#c455)">
<g filter="url(#h1)">
<rect x="270.95" y="72.38" width="13.50" height="4.80" rx="1.60" fill="#000" fill-opacity="0.12"/>
<rect x="285.56" y="72.38" width="13.50" height="4.80" rx="1.60" fill="#000" fill-opacity="0.13"/>
<rect x="300.17" y="72.48" width="13.50" height="4.60" rx="1.60" fill="#000" fill-opacity="0.11"/>
<rect x="314.78" y="72.38" width="13.50" height="4.80" rx="1.60" fill="#000" fill-opacity="0.12"/>
<rect x="329.14" y="72.28" width="14.00" height="5.00" rx="1.60" fill="#000" fill-opacity="0.15"/>
<rect x="344.00" y="72.48" width="13.50" height="4.60" rx="1.60" fill="#000" fill-opacity="0.13"/>
<rect x="358.61" y="72.48" width="13.50" height="4.60" rx="1.60" fill="#000" fill-opacity="0.10"/>
<rect x="373.22" y="72.48" width="13.50" height="4.60" rx="1.60" fill="#000" fill-opacity="0.12"/>
<rect x="387.83" y="72.48" width="13.50" height="4.60" rx="1.60" fill="#000" fill-opacity="0.13"/>
<rect x="402.19" y="72.18" width="14.00" height="5.20" rx="1.60" fill="#000" fill-opacity="0.18"/>
<rect x="416.80" y="72.28" width="14.00" height="5.00" rx="1.60" fill="#000" fill-opacity="0.17"/>
<rect x="431.66" y="72.38" width="13.50" height="4.80" rx="1.60" fill="#000" fill-opacity="0.16"/>
</g>
<g filter="url(#b1)">
<rect x="271.70" y="73.53" width="12.00" height="2.50" rx="1.25" fill="#000" fill-opacity="0.60"/>
<rect x="286.31" y="73.53" width="12.00" height="2.50" rx="1.25" fill="#000" fill-opacity="0.65"/>
<rect x="300.92" y="73.61" width="12.00" height="2.33" rx="1.17" fill="#000" fill-opacity="0.55"/>
<rect x="315.53" y="73.53" width="12.00" height="2.50" rx="1.25" fill="#000" fill-opacity="0.60"/>
<rect x="329.89" y="73.45" width="12.50" height="2.66" rx="1.33" fill="#000" fill-opacity="0.75"/>
<rect x="344.75" y="73.61" width="12.00" height="2.33" rx="1.17" fill="#000" fill-opacity="0.65"/>
<rect x="359.36" y="73.61" width="12.00" height="2.33" rx="1.17" fill="#000" fill-opacity="0.50"/>
<rect x="373.97" y="73.61" width="12.00" height="2.33" rx="1.17" fill="#000" fill-opacity="0.60"/>
<rect x="388.58" y="73.61" width="12.00" height="2.33" rx="1.17" fill="#000" fill-opacity="0.65"/>
<rect x="402.94" y="73.37" width="12.50" height="2.82" rx="1.41" fill="#000" fill-opacity="0.90"/>
<rect x="417.55" y="73.45" width="12.50" height="2.66" rx="1.33" fill="#000" fill-opacity="0.85"/>
<rect x="432.41" y="73.53" width="12.00" height="2.50" rx="1.25" fill="#000" fill-opacity="0.80"/>
</g>
</g>
<rect x="269.20" y="69.20" width="177.40" height="12.40" fill="none" stroke="#444" stroke-width="0.9"/>
<text x="278.00" y="86.90" font-size="6.00" text-anchor="middle" fill="#222">0.88</text>
<text x="292.61" y="86.90" font-size="6.00" text-anchor="middle" fill="#222">1.28</text>
<text x="307.22" y="86.90" font-size="6.00" text-anchor="middle" fill="#222">1.16</text>
<text x="321.83" y="86.90" font-size="6.00" text-anchor="middle" fill="#222">1.26</text>
<text x="336.44" y="86.90" font-size="6.00" text-anchor="middle" fill="#222">1.36</text>
<text x="351.05" y="86.90" font-size="6.00" text-anchor="middle" fill="#222">1</text>
<text x="365.66" y="86.90" font-size="6.00" text-anchor="middle" fill="#222">0.92</text>
<text x="380.27" y="86.90" font-size="6.00" text-anchor="middle" fill="#222">1.11</text>
<text x="394.88" y="86.90" font-size="6.00" text-anchor="middle" fill="#222">1.31</text>
<text x="409.49" y="86.90" font-size="6.00" text-anchor="middle" fill="#222">1.39</text>
<text x="424.10" y="86.90" font-size="6.00" text-anchor="middle" fill="#222">1.33</text>
<text x="438.71" y="86.90" font-size="6.00" text-anchor="middle" fill="#222">1.14</text>
<clipPath id="c501"><rect x="269.20" y="90.80" width="177.40" height="12.40"/></clipPath>
<linearGradient id="g502" x1="0" x2="1" y1="0" y2="0"><stop offset="0.000" stop-color="#b4b4b4"/><stop offset="0.333" stop-color="#adadad"/><stop offset="0.667" stop-color="#a0a0a0"/><stop offset="1.000" stop-color="#999999"/></linearGradient>
<rect x="269.20" y="90.80" width="177.40" height="12.40" fill="url(#g502)"/>
<g clip-path="url(#c501)">
<g filter="url(#h1)">
<rect x="271.95" y="94.38" width="11.50" height="4.00" rx="1.60" fill="#000" fill-opacity="0.06"/>
<rect x="286.56" y="94.38" width="11.50" height="4.00" rx="1.60" fill="#000" fill-opacity="0.05"/>
<rect x="301.17" y="94.28" width="11.50" height="4.20" rx="1.60" fill="#000" fill-opacity="0.07"/>
<rect x="315.53" y="94.18" width="12.00" height="4.40" rx="1.60" fill="#000" fill-opacity="0.08"/>
<rect x="330.14" y="94.18" width="12.00" height="4.40" rx="1.60" fill="#000" fill-opacity="0.10"/>
<rect x="344.75" y="94.08" width="12.00" height="4.60" rx="1.60" fill="#000" fill-opacity="0.13"/>
<rect x="359.61" y="94.38" width="11.50" height="4.00" rx="1.60" fill="#000" fill-opacity="0.05"/>
<rect x="373.97" y="94.18" width="12.00" height="4.40" rx="1.60" fill="#000" fill-opacity="0.10"/>
<rect x="388.33" y="94.08" width="12.50" height="4.60" rx="1.60" fill="#000" fill-opacity="0.17"/>
<rect x="402.69" y="93.88" width="13.00" height="5.00" rx="1.60" fill="#000" fill-opacity="0.19"/>
<rect x="417.05" y="93.58" width="13.50" height="5.60" rx="1.60" fill="#000" fill-opacity="0.20"/>
<rect x="431.41" y="92.88" width="14.00" height="7.00" rx="1.60" fill="#000" fill-opacity="0.20"/>
</g>
<g filter="url(#b1)">
<rect x="272.70" y="95.46" width="10.00" height="1.84" rx="0.92" fill="#000" fill-opacity="0.30"/>
<rect x="287.31" y="95.46" width="10.00" height="1.84" rx="0.92" fill="#000" fill-opacity="0.25"/>
<rect x="301.92" y="95.38" width="10.00" height="2.00" rx="1.00" fill="#000" fill-opacity="0.35"/>
<rect x="316.28" y="95.30" width="10.50" height="2.17" rx="1.08" fill="#000" fill-opacity="0.40"/>
<rect x="330.89" y="95.30" width="10.50" height="2.17" rx="1.08" fill="#000" fill-opacity="0.50"/>
<rect x="345.50" y="95.21" width="10.50" height="2.33" rx="1.17" fill="#000" fill-opacity="0.65"/>
<rect x="360.36" y="95.46" width="10.00" height="1.84" rx="0.92" fill="#000" fill-opacity="0.25"/>
<rect x="374.72" y="95.30" width="10.50" height="2.17" rx="1.08" fill="#000" fill-opacity="0.50"/>
<rect x="389.08" y="95.21" width="11.00" height="2.33" rx="1.17" fill="#000" fill-opacity="0.85"/>
<rect x="403.44" y="95.05" width="11.50" height="2.66" rx="1.33" fill="#000" fill-opacity="0.95"/>
<rect x="417.80" y="94.80" width="12.00" height="3.15" rx="1.58" fill="#000" fill-opacity="1.00"/>
<rect x="432.16" y="94.23" width="12.50" height="4.30" rx="1.60" fill="#000" fill-opacity="1.00"/>
</g>
</g>
<rect x="269.20" y="90.80" width="177.40" height="12.40" fill="none" stroke="#444" stroke-width="0.9"/>
<text x="292.61" y="108.70" font-size="6.00" text-anchor="middle" fill="#222">0.30</text>
<text x="307.22" y="108.70" font-size="6.00" text-anchor="middle" fill="#222">0.38</text>
<text x="321.83" y="108.70" font-size="6.00" text-anchor="middle" fill="#222">0.39</text>
<text x="336.44" y="108.70" font-size="6.00" text-anchor="middle" fill="#222">0.54</text>
<text x="351.05" y="108.70" font-size="6.00" text-anchor="middle" fill="#222">1</text>
<text x="380.27" y="108.70" font-size="6.00" text-anchor="middle" fill="#222">2.57</text>
<text x="394.88" y="108.70" font-size="6.00" text-anchor="middle" fill="#222">4.77</text>
<text x="409.49" y="108.70" font-size="6.00" text-anchor="middle" fill="#222">6.36</text>
<text x="424.10" y="108.70" font-size="6.00" text-anchor="middle" fill="#222">7</text>
<text x="438.71" y="108.70" font-size="6.00" text-anchor="middle" fill="#222">13.18</text>
<clipPath id="c545"><rect x="269.20" y="112.40" width="177.40" height="12.40"/></clipPath>
<rect x="269.20" y="112.40" width="177.40" height="12.40" fill="#bbbbbb"/>
<g clip-path="url(#c545)">
<g filter="url(#h1)">
<rect x="271.20" y="115.85" width="13.00" height="5.00" rx="1.60" fill="#000" fill-opacity="0.19"/>
<rect x="285.81" y="115.85" width="13.00" height="5.00" rx="1.60" fill="#000" fill-opacity="0.19"/>
<rect x="300.42" y="115.75" width="13.00" height="5.20" rx="1.60" fill="#000" fill-opacity="0.20"/>
<rect x="315.03" y="115.85" width="13.00" height="5.00" rx="1.60" fill="#000" fill-opacity="0.19"/>
<rect x="329.64" y="115.95" width="13.00" height="4.80" rx="1.60" fill="#000" fill-opacity="0.18"/>
<rect x="344.75" y="116.15" width="12.00" height="4.40" rx="1.60" fill="#000" fill-opacity="0.14"/>
<rect x="359.36" y="116.25" width="12.00" height="4.20" rx="1.60" fill="#000" fill-opacity="0.07"/>
<rect x="373.97" y="116.25" width="12.00" height="4.20" rx="1.60" fill="#000" fill-opacity="0.08"/>
<rect x="388.58" y="116.25" width="12.00" height="4.20" rx="1.60" fill="#000" fill-opacity="0.07"/>
<rect x="403.19" y="116.25" width="12.00" height="4.20" rx="1.60" fill="#000" fill-opacity="0.07"/>
<rect x="417.80" y="116.25" width="12.00" height="4.20" rx="1.60" fill="#000" fill-opacity="0.11"/>
<rect x="432.41" y="116.35" width="12.00" height="4.00" rx="1.60" fill="#000" fill-opacity="0.07"/>
</g>
<g filter="url(#b1)">
<rect x="271.95" y="117.02" width="11.50" height="2.66" rx="1.33" fill="#000" fill-opacity="0.95"/>
<rect x="286.56" y="117.02" width="11.50" height="2.66" rx="1.33" fill="#000" fill-opacity="0.95"/>
<rect x="301.17" y="116.94" width="11.50" height="2.82" rx="1.41" fill="#000" fill-opacity="1.00"/>
<rect x="315.78" y="117.02" width="11.50" height="2.66" rx="1.33" fill="#000" fill-opacity="0.95"/>
<rect x="330.39" y="117.10" width="11.50" height="2.50" rx="1.25" fill="#000" fill-opacity="0.90"/>
<rect x="345.50" y="117.27" width="10.50" height="2.17" rx="1.08" fill="#000" fill-opacity="0.70"/>
<rect x="360.11" y="117.35" width="10.50" height="2.00" rx="1.00" fill="#000" fill-opacity="0.35"/>
<rect x="374.72" y="117.35" width="10.50" height="2.00" rx="1.00" fill="#000" fill-opacity="0.40"/>
<rect x="389.33" y="117.35" width="10.50" height="2.00" rx="1.00" fill="#000" fill-opacity="0.35"/>
<rect x="403.94" y="117.35" width="10.50" height="2.00" rx="1.00" fill="#000" fill-opacity="0.35"/>
<rect x="418.55" y="117.35" width="10.50" height="2.00" rx="1.00" fill="#000" fill-opacity="0.55"/>
<rect x="433.16" y="117.43" width="10.50" height="1.84" rx="0.92" fill="#000" fill-opacity="0.35"/>
</g>
</g>
<rect x="269.20" y="112.40" width="177.40" height="12.40" fill="none" stroke="#444" stroke-width="0.9"/>
<text x="278.00" y="129.90" font-size="6.00" text-anchor="middle" fill="#222">1.47</text>
<text x="292.61" y="129.90" font-size="6.00" text-anchor="middle" fill="#222">1.84</text>
<text x="307.22" y="129.90" font-size="6.00" text-anchor="middle" fill="#222">1.9</text>
<text x="321.83" y="129.90" font-size="6.00" text-anchor="middle" fill="#222">1.67</text>
<text x="336.44" y="129.90" font-size="6.00" text-anchor="middle" fill="#222">1.42</text>
<text x="351.05" y="129.90" font-size="6.00" text-anchor="middle" fill="#222">1</text>
<text x="365.66" y="129.90" font-size="6.00" text-anchor="middle" fill="#222">0.71</text>
<text x="380.27" y="129.90" font-size="6.00" text-anchor="middle" fill="#222">0.73</text>
<text x="394.88" y="129.90" font-size="6.00" text-anchor="middle" fill="#222">0.67</text>
<text x="409.49" y="129.90" font-size="6.00" text-anchor="middle" fill="#222">0.68</text>
<text x="424.10" y="129.90" font-size="6.00" text-anchor="middle" fill="#222">0.66</text>
<text x="438.71" y="129.90" font-size="6.00" text-anchor="middle" fill="#222">0.45</text>
<clipPath id="c590"><rect x="269.20" y="133.60" width="177.40" height="12.20"/></clipPath>
<rect x="269.20" y="133.60" width="177.40" height="12.20" fill="#c0c0c0"/>
<g clip-path="url(#c590)">
<g filter="url(#h1)">
<rect x="270.70" y="136.72" width="14.00" height="4.00" rx="1.60" fill="#000" fill-opacity="0.19"/>
<rect x="285.56" y="136.82" width="13.50" height="3.80" rx="1.60" fill="#000" fill-opacity="0.16"/>
<rect x="300.17" y="136.82" width="13.50" height="3.80" rx="1.60" fill="#000" fill-opacity="0.16"/>
<rect x="314.53" y="136.82" width="14.00" height="3.80" rx="1.60" fill="#000" fill-opacity="0.17"/>
<rect x="329.14" y="136.72" width="14.00" height="4.00" rx="1.60" fill="#000" fill-opacity="0.18"/>
<rect x="343.75" y="136.62" width="14.00" height="4.20" rx="1.60" fill="#000" fill-opacity="0.19"/>
<rect x="358.36" y="136.62" width="14.00" height="4.20" rx="1.60" fill="#000" fill-opacity="0.19"/>
<rect x="373.22" y="136.82" width="13.50" height="3.80" rx="1.60" fill="#000" fill-opacity="0.16"/>
<rect x="387.58" y="136.82" width="14.00" height="3.80" rx="1.60" fill="#000" fill-opacity="0.17"/>
<rect x="402.19" y="136.72" width="14.00" height="4.00" rx="1.60" fill="#000" fill-opacity="0.18"/>
<rect x="416.80" y="136.72" width="14.00" height="4.00" rx="1.60" fill="#000" fill-opacity="0.19"/>
<rect x="431.41" y="136.62" width="14.00" height="4.20" rx="1.60" fill="#000" fill-opacity="0.19"/>
</g>
<g filter="url(#b1)">
<rect x="271.45" y="137.80" width="12.50" height="1.84" rx="0.92" fill="#000" fill-opacity="0.95"/>
<rect x="286.31" y="137.89" width="12.00" height="1.68" rx="0.84" fill="#000" fill-opacity="0.80"/>
<rect x="300.92" y="137.89" width="12.00" height="1.68" rx="0.84" fill="#000" fill-opacity="0.80"/>
<rect x="315.28" y="137.89" width="12.50" height="1.68" rx="0.84" fill="#000" fill-opacity="0.85"/>
<rect x="329.89" y="137.80" width="12.50" height="1.84" rx="0.92" fill="#000" fill-opacity="0.90"/>
<rect x="344.50" y="137.72" width="12.50" height="2.00" rx="1.00" fill="#000" fill-opacity="0.95"/>
<rect x="359.11" y="137.72" width="12.50" height="2.00" rx="1.00" fill="#000" fill-opacity="0.95"/>
<rect x="373.97" y="137.89" width="12.00" height="1.68" rx="0.84" fill="#000" fill-opacity="0.80"/>
<rect x="388.33" y="137.89" width="12.50" height="1.68" rx="0.84" fill="#000" fill-opacity="0.85"/>
<rect x="402.94" y="137.80" width="12.50" height="1.84" rx="0.92" fill="#000" fill-opacity="0.90"/>
<rect x="417.55" y="137.80" width="12.50" height="1.84" rx="0.92" fill="#000" fill-opacity="0.95"/>
<rect x="432.16" y="137.72" width="12.50" height="2.00" rx="1.00" fill="#000" fill-opacity="0.95"/>
</g>
</g>
<rect x="269.20" y="133.60" width="177.40" height="12.20" fill="none" stroke="#444" stroke-width="0.9"/>
<text x="267.60" y="57.00" font-size="9.00" text-anchor="end" fill="#1c1c1c">P-STING</text>
<text x="267.60" y="78.60" font-size="9.00" text-anchor="end" fill="#1c1c1c">STING</text>
<text x="267.60" y="100.20" font-size="9.00" text-anchor="end" fill="#1c1c1c">P-TBK1</text>
<text x="267.60" y="121.80" font-size="9.00" text-anchor="end" fill="#1c1c1c">TBK1</text>
<text x="267.60" y="143.00" font-size="9.00" text-anchor="end" fill="#1c1c1c">Actin</text>
<text x="481.20" y="11.70" font-size="15.50" text-anchor="start" fill="#1c1c1c">c</text>
<text x="563.40" y="8.70" font-size="8.80" text-anchor="start" fill="#1c1c1c">RAW264.7</text>
<text x="545.00" y="27.00" font-size="9.00" text-anchor="middle" fill="#1c1c1c">DMSO (2<tspan font-family="Liberation Serif, serif">µ</tspan>M)</text>
<text x="631.90" y="28.40" font-size="9.00" text-anchor="middle" fill="#1c1c1c">PP VII (2<tspan font-family="Liberation Serif, serif">µ</tspan>M)</text>
<line x1="503.00" y1="32.20" x2="582.10" y2="32.20" stroke="#7c7c7c" stroke-width="1.00"/>
<line x1="591.00" y1="32.20" x2="670.00" y2="32.20" stroke="#7c7c7c" stroke-width="1.00"/>
<text x="494.60" y="44.00" font-size="9.00" text-anchor="end" fill="#1c1c1c">IL-6</text>
<text x="505.20" y="44.00" font-size="9.00" text-anchor="middle" fill="#1c1c1c">0</text>
<text x="519.78" y="44.00" font-size="9.00" text-anchor="middle" fill="#1c1c1c">1</text>
<text x="534.36" y="44.00" font-size="9.00" text-anchor="middle" fill="#1c1c1c">3</text>
<text x="548.94" y="44.00" font-size="9.00" text-anchor="middle" fill="#1c1c1c">6</text>
<text x="563.52" y="44.00" font-size="9.00" text-anchor="middle" fill="#1c1c1c">12</text>
<text x="578.10" y="44.00" font-size="9.00" text-anchor="middle" fill="#1c1c1c">24</text>
<text x="592.68" y="44.00" font-size="9.00" text-anchor="middle" fill="#1c1c1c">0</text>
<text x="607.26" y="44.00" font-size="9.00" text-anchor="middle" fill="#1c1c1c">1</text>
<text x="621.84" y="44.00" font-size="9.00" text-anchor="middle" fill="#1c1c1c">3</text>
<text x="636.42" y="44.00" font-size="9.00" text-anchor="middle" fill="#1c1c1c">6</text>
<text x="651.00" y="44.00" font-size="9.00" text-anchor="middle" fill="#1c1c1c">12</text>
<text x="665.58" y="44.00" font-size="9.00" text-anchor="middle" fill="#1c1c1c">24</text>
<text x="674.40" y="44.00" font-size="9.00" text-anchor="start" fill="#1c1c1c">(h)</text>
<clipPath id="c648"><rect x="497.00" y="47.00" width="177.40" height="12.60"/></clipPath>
<rect x="497.00" y="47.00" width="177.40" height="12.60" fill="#c6c6c6"/>
<g clip-path="url(#c648)">
<g filter="url(#h1)">
<rect x="513.10" y="50.70" width="12.00" height="5.20" rx="1.60" fill="#000" fill-opacity="0.18"/>
<rect x="527.90" y="50.60" width="12.00" height="5.40" rx="1.60" fill="#000" fill-opacity="0.18"/>
<rect x="541.55" y="49.50" width="14.30" height="7.60" rx="1.60" fill="#000" fill-opacity="0.20"/>
<rect x="556.65" y="49.90" width="13.70" height="6.80" rx="1.60" fill="#000" fill-opacity="0.20"/>
<rect x="571.45" y="49.90" width="13.70" height="6.80" rx="1.60" fill="#000" fill-opacity="0.20"/>
<rect x="602.15" y="51.10" width="11.50" height="4.40" rx="1.60" fill="#000" fill-opacity="0.07"/>
<rect x="616.95" y="51.20" width="11.50" height="4.20" rx="1.60" fill="#000" fill-opacity="0.04"/>
<rect x="631.25" y="50.80" width="12.50" height="5.00" rx="1.60" fill="#000" fill-opacity="0.19"/>
<rect x="646.05" y="51.10" width="12.50" height="4.40" rx="1.60" fill="#000" fill-opacity="0.17"/>
<rect x="661.10" y="51.20" width="12.00" height="4.20" rx="1.60" fill="#000" fill-opacity="0.17"/>
</g>
<g filter="url(#b1)">
<rect x="513.85" y="51.89" width="10.50" height="2.82" rx="1.41" fill="#000" fill-opacity="0.90"/>
<rect x="528.65" y="51.81" width="10.50" height="2.99" rx="1.49" fill="#000" fill-opacity="0.90"/>
<rect x="542.30" y="50.90" width="12.80" height="4.79" rx="1.60" fill="#000" fill-opacity="1.00"/>
<rect x="557.40" y="51.23" width="12.20" height="4.14" rx="1.60" fill="#000" fill-opacity="1.00"/>
<rect x="572.20" y="51.23" width="12.20" height="4.14" rx="1.60" fill="#000" fill-opacity="1.00"/>
<rect x="602.90" y="52.22" width="10.00" height="2.17" rx="1.08" fill="#000" fill-opacity="0.35"/>
<rect x="617.70" y="52.30" width="10.00" height="2.00" rx="1.00" fill="#000" fill-opacity="0.22"/>
<rect x="632.00" y="51.97" width="11.00" height="2.66" rx="1.33" fill="#000" fill-opacity="0.95"/>
<rect x="646.80" y="52.22" width="11.00" height="2.17" rx="1.08" fill="#000" fill-opacity="0.85"/>
<rect x="661.85" y="52.30" width="10.50" height="2.00" rx="1.00" fill="#000" fill-opacity="0.85"/>
</g>
</g>
<rect x="497.00" y="47.00" width="177.40" height="12.60" fill="none" stroke="#444" stroke-width="0.9"/>
<text x="519.40" y="65.50" font-size="6.00" text-anchor="middle" fill="#222">1.47</text>
<text x="534.20" y="65.50" font-size="6.00" text-anchor="middle" fill="#222">1.49</text>
<text x="549.00" y="65.50" font-size="6.00" text-anchor="middle" fill="#222">1.68</text>
<text x="563.80" y="65.50" font-size="6.00" text-anchor="middle" fill="#222">1.25</text>
<text x="578.60" y="65.50" font-size="6.00" text-anchor="middle" fill="#222">1</text>
<text x="608.20" y="65.50" font-size="6.00" text-anchor="middle" fill="#222">1.43</text>
<text x="623.00" y="65.50" font-size="6.00" text-anchor="middle" fill="#222">1.14</text>
<text x="637.80" y="65.50" font-size="6.00" text-anchor="middle" fill="#222">1</text>
<text x="652.60" y="65.50" font-size="6.00" text-anchor="middle" fill="#222">0.66</text>
<text x="667.40" y="65.50" font-size="6.00" text-anchor="middle" fill="#222">0.45</text>
<clipPath id="c687"><rect x="497.00" y="69.00" width="177.40" height="12.40"/></clipPath>
<rect x="497.00" y="69.00" width="177.40" height="12.40" fill="#c2c2c2"/>
<g clip-path="url(#c687)">
<g filter="url(#h1)">
<rect x="498.55" y="72.31" width="11.50" height="3.80" rx="1.60" fill="#000" fill-opacity="0.07"/>
<rect x="513.35" y="72.21" width="11.50" height="4.00" rx="1.60" fill="#000" fill-opacity="0.06"/>
<rect x="528.15" y="72.21" width="11.50" height="4.00" rx="1.60" fill="#000" fill-opacity="0.05"/>
<rect x="542.45" y="71.91" width="12.50" height="4.60" rx="1.60" fill="#000" fill-opacity="0.18"/>
<rect x="557.25" y="71.81" width="12.50" height="4.80" rx="1.60" fill="#000" fill-opacity="0.18"/>
<rect x="571.80" y="71.51" width="13.00" height="5.40" rx="1.60" fill="#000" fill-opacity="0.20"/>
<rect x="587.35" y="72.21" width="11.50" height="4.00" rx="1.60" fill="#000" fill-opacity="0.06"/>
<rect x="602.15" y="72.21" width="11.50" height="4.00" rx="1.60" fill="#000" fill-opacity="0.04"/>
<rect x="616.95" y="72.21" width="11.50" height="4.00" rx="1.60" fill="#000" fill-opacity="0.05"/>
<rect x="631.25" y="71.91" width="12.50" height="4.60" rx="1.60" fill="#000" fill-opacity="0.18"/>
<rect x="645.80" y="71.81" width="13.00" height="4.80" rx="1.60" fill="#000" fill-opacity="0.19"/>
<rect x="660.60" y="71.71" width="13.00" height="5.00" rx="1.60" fill="#000" fill-opacity="0.19"/>
</g>
<g filter="url(#b1)">
<rect x="499.30" y="73.37" width="10.00" height="1.68" rx="0.84" fill="#000" fill-opacity="0.35"/>
<rect x="514.10" y="73.29" width="10.00" height="1.84" rx="0.92" fill="#000" fill-opacity="0.30"/>
<rect x="528.90" y="73.29" width="10.00" height="1.84" rx="0.92" fill="#000" fill-opacity="0.25"/>
<rect x="543.20" y="73.04" width="11.00" height="2.33" rx="1.17" fill="#000" fill-opacity="0.90"/>
<rect x="558.00" y="72.96" width="11.00" height="2.50" rx="1.25" fill="#000" fill-opacity="0.90"/>
<rect x="572.55" y="72.71" width="11.50" height="2.99" rx="1.49" fill="#000" fill-opacity="1.00"/>
<rect x="588.10" y="73.29" width="10.00" height="1.84" rx="0.92" fill="#000" fill-opacity="0.30"/>
<rect x="602.90" y="73.29" width="10.00" height="1.84" rx="0.92" fill="#000" fill-opacity="0.22"/>
<rect x="617.70" y="73.29" width="10.00" height="1.84" rx="0.92" fill="#000" fill-opacity="0.25"/>
<rect x="632.00" y="73.04" width="11.00" height="2.33" rx="1.17" fill="#000" fill-opacity="0.90"/>
<rect x="646.55" y="72.96" width="11.50" height="2.50" rx="1.25" fill="#000" fill-opacity="0.95"/>
<rect x="661.35" y="72.88" width="11.50" height="2.66" rx="1.33" fill="#000" fill-opacity="0.95"/>
</g>
</g>
<rect x="497.00" y="69.00" width="177.40" height="12.40" fill="none" stroke="#444" stroke-width="0.9"/>
<text x="504.60" y="86.70" font-size="6.00" text-anchor="middle" fill="#222">0.37</text>
<text x="519.40" y="86.70" font-size="6.00" text-anchor="middle" fill="#222">0.32</text>
<text x="534.20" y="86.70" font-size="6.00" text-anchor="middle" fill="#222">0.4</text>
<text x="549.00" y="86.70" font-size="6.00" text-anchor="middle" fill="#222">0.72</text>
<text x="563.80" y="86.70" font-size="6.00" text-anchor="middle" fill="#222">0.74</text>
<text x="578.60" y="86.70" font-size="6.00" text-anchor="middle" fill="#222">1</text>
<text x="593.40" y="86.70" font-size="6.00" text-anchor="middle" fill="#222">0.28</text>
<text x="608.20" y="86.70" font-size="6.00" text-anchor="middle" fill="#222">0.24</text>
<text x="623.00" y="86.70" font-size="6.00" text-anchor="middle" fill="#222">0.26</text>
<text x="637.80" y="86.70" font-size="6.00" text-anchor="middle" fill="#222">0.62</text>
<text x="652.60" y="86.70" font-size="6.00" text-anchor="middle" fill="#222">0.8</text>
<text x="667.40" y="86.70" font-size="6.00" text-anchor="middle" fill="#222">1.04</text>
<clipPath id="c732"><rect x="497.00" y="90.60" width="177.40" height="12.20"/></clipPath>
<rect x="497.00" y="90.60" width="177.40" height="12.20" fill="#b2b2b2"/>
<g clip-path="url(#c732)">
<g filter="url(#h1)">
<rect x="498.30" y="95.11" width="12.00" height="4.40" rx="1.60" fill="#000" fill-opacity="0.12"/>
<rect x="512.60" y="94.91" width="13.00" height="4.80" rx="1.60" fill="#000" fill-opacity="0.18"/>
<rect x="527.40" y="95.01" width="13.00" height="4.60" rx="1.60" fill="#000" fill-opacity="0.18"/>
<rect x="542.20" y="94.91" width="13.00" height="4.80" rx="1.60" fill="#000" fill-opacity="0.19"/>
<rect x="557.00" y="94.91" width="13.00" height="4.80" rx="1.60" fill="#000" fill-opacity="0.19"/>
<rect x="571.80" y="94.91" width="13.00" height="4.80" rx="1.60" fill="#000" fill-opacity="0.19"/>
<rect x="586.60" y="95.01" width="13.00" height="4.60" rx="1.60" fill="#000" fill-opacity="0.18"/>
<rect x="601.40" y="95.11" width="13.00" height="4.40" rx="1.60" fill="#000" fill-opacity="0.18"/>
<rect x="616.20" y="95.01" width="13.00" height="4.60" rx="1.60" fill="#000" fill-opacity="0.17"/>
<rect x="630.75" y="94.81" width="13.50" height="5.00" rx="1.60" fill="#000" fill-opacity="0.19"/>
<rect x="645.55" y="94.81" width="13.50" height="5.00" rx="1.60" fill="#000" fill-opacity="0.19"/>
<rect x="660.35" y="94.91" width="13.50" height="4.80" rx="1.60" fill="#000" fill-opacity="0.19"/>
</g>
<g filter="url(#b1)">
<rect x="499.05" y="96.23" width="10.50" height="2.17" rx="1.08" fill="#000" fill-opacity="0.60"/>
<rect x="513.35" y="96.06" width="11.50" height="2.50" rx="1.25" fill="#000" fill-opacity="0.90"/>
<rect x="528.15" y="96.14" width="11.50" height="2.33" rx="1.17" fill="#000" fill-opacity="0.90"/>
<rect x="542.95" y="96.06" width="11.50" height="2.50" rx="1.25" fill="#000" fill-opacity="0.95"/>
<rect x="557.75" y="96.06" width="11.50" height="2.50" rx="1.25" fill="#000" fill-opacity="0.95"/>
<rect x="572.55" y="96.06" width="11.50" height="2.50" rx="1.25" fill="#000" fill-opacity="0.95"/>
<rect x="587.35" y="96.14" width="11.50" height="2.33" rx="1.17" fill="#000" fill-opacity="0.90"/>
<rect x="602.15" y="96.23" width="11.50" height="2.17" rx="1.08" fill="#000" fill-opacity="0.90"/>
<rect x="616.95" y="96.14" width="11.50" height="2.33" rx="1.17" fill="#000" fill-opacity="0.85"/>
<rect x="631.50" y="95.98" width="12.00" height="2.66" rx="1.33" fill="#000" fill-opacity="0.95"/>
<rect x="646.30" y="95.98" width="12.00" height="2.66" rx="1.33" fill="#000" fill-opacity="0.95"/>
<rect x="661.10" y="96.06" width="12.00" height="2.50" rx="1.25" fill="#000" fill-opacity="0.95"/>
</g>
</g>
<rect x="497.00" y="90.60" width="177.40" height="12.20" fill="none" stroke="#444" stroke-width="0.9"/>
<text x="494.60" y="56.80" font-size="9.00" text-anchor="end" fill="#1c1c1c">P-STAT3</text>
<text x="494.60" y="78.20" font-size="9.00" text-anchor="end" fill="#1c1c1c">STAT3</text>
<text x="494.60" y="100.00" font-size="9.00" text-anchor="end" fill="#1c1c1c">Tubulin</text>
<text x="480.20" y="134.00" font-size="15.50" text-anchor="start" fill="#1c1c1c">d</text>
<text x="572.80" y="129.20" font-size="8.80" text-anchor="start" fill="#1c1c1c">THP-1</text>
<text x="543.50" y="146.00" font-size="9.00" text-anchor="middle" fill="#1c1c1c">DMSO (2<tspan font-family="Liberation Serif, serif">µ</tspan>M)</text>
<text x="630.50" y="147.40" font-size="9.00" text-anchor="middle" fill="#1c1c1c">PP VII (2<tspan font-family="Liberation Serif, serif">µ</tspan>M)</text>
<line x1="501.30" y1="150.80" x2="580.80" y2="150.80" stroke="#7c7c7c" stroke-width="1.00"/>
<line x1="589.40" y1="150.80" x2="668.60" y2="150.80" stroke="#7c7c7c" stroke-width="1.00"/>
<text x="494.20" y="162.00" font-size="9.00" text-anchor="end" fill="#1c1c1c">IL-6</text>
<text x="503.80" y="162.00" font-size="9.00" text-anchor="middle" fill="#1c1c1c">0</text>
<text x="518.36" y="162.00" font-size="9.00" text-anchor="middle" fill="#1c1c1c">1</text>
<text x="532.92" y="162.00" font-size="9.00" text-anchor="middle" fill="#1c1c1c">3</text>
<text x="547.48" y="162.00" font-size="9.00" text-anchor="middle" fill="#1c1c1c">6</text>
<text x="562.04" y="162.00" font-size="9.00" text-anchor="middle" fill="#1c1c1c">12</text>
<text x="576.60" y="162.00" font-size="9.00" text-anchor="middle" fill="#1c1c1c">24</text>
<text x="591.16" y="162.00" font-size="9.00" text-anchor="middle" fill="#1c1c1c">0</text>
<text x="605.72" y="162.00" font-size="9.00" text-anchor="middle" fill="#1c1c1c">1</text>
<text x="620.28" y="162.00" font-size="9.00" text-anchor="middle" fill="#1c1c1c">3</text>
<text x="634.84" y="162.00" font-size="9.00" text-anchor="middle" fill="#1c1c1c">6</text>
<text x="649.40" y="162.00" font-size="9.00" text-anchor="middle" fill="#1c1c1c">12</text>
<text x="663.96" y="162.00" font-size="9.00" text-anchor="middle" fill="#1c1c1c">24</text>
<text x="674.60" y="166.00" font-size="9.00" text-anchor="start" fill="#1c1c1c">(h)</text>
<clipPath id="c788"><rect x="497.00" y="165.00" width="177.60" height="12.60"/></clipPath>
<rect x="497.00" y="165.00" width="177.60" height="12.60" fill="#c6c6c6"/>
<g clip-path="url(#c788)">
<g filter="url(#h1)">
<rect x="500.15" y="169.55" width="10.50" height="4.00" rx="1.60" fill="#000" fill-opacity="0.01"/>
<rect x="513.59" y="169.15" width="13.00" height="4.80" rx="1.60" fill="#000" fill-opacity="0.19"/>
<rect x="528.28" y="169.05" width="13.00" height="5.00" rx="1.60" fill="#000" fill-opacity="0.19"/>
<rect x="542.47" y="168.45" width="14.00" height="6.20" rx="1.60" fill="#000" fill-opacity="0.20"/>
<rect x="557.66" y="169.05" width="13.00" height="5.00" rx="1.60" fill="#000" fill-opacity="0.19"/>
<rect x="572.35" y="169.05" width="13.00" height="5.00" rx="1.60" fill="#000" fill-opacity="0.19"/>
<rect x="588.29" y="169.55" width="10.50" height="4.00" rx="1.60" fill="#000" fill-opacity="0.01"/>
<rect x="602.23" y="169.35" width="12.00" height="4.40" rx="1.60" fill="#000" fill-opacity="0.09"/>
<rect x="617.17" y="169.55" width="11.50" height="4.00" rx="1.60" fill="#000" fill-opacity="0.05"/>
<rect x="631.36" y="169.35" width="12.50" height="4.40" rx="1.60" fill="#000" fill-opacity="0.14"/>
<rect x="646.05" y="169.45" width="12.50" height="4.20" rx="1.60" fill="#000" fill-opacity="0.12"/>
<rect x="660.99" y="169.55" width="12.00" height="4.00" rx="1.60" fill="#000" fill-opacity="0.08"/>
</g>
<g filter="url(#b1)">
<rect x="500.90" y="170.63" width="9.00" height="1.84" rx="0.92" fill="#000" fill-opacity="0.06"/>
<rect x="514.34" y="170.30" width="11.50" height="2.50" rx="1.25" fill="#000" fill-opacity="0.95"/>
<rect x="529.03" y="170.22" width="11.50" height="2.66" rx="1.33" fill="#000" fill-opacity="0.95"/>
<rect x="543.22" y="169.73" width="12.50" height="3.64" rx="1.60" fill="#000" fill-opacity="1.00"/>
<rect x="558.41" y="170.22" width="11.50" height="2.66" rx="1.33" fill="#000" fill-opacity="0.95"/>
<rect x="573.10" y="170.22" width="11.50" height="2.66" rx="1.33" fill="#000" fill-opacity="0.95"/>
<rect x="589.04" y="170.63" width="9.00" height="1.84" rx="0.92" fill="#000" fill-opacity="0.06"/>
<rect x="602.98" y="170.47" width="10.50" height="2.17" rx="1.08" fill="#000" fill-opacity="0.45"/>
<rect x="617.92" y="170.63" width="10.00" height="1.84" rx="0.92" fill="#000" fill-opacity="0.25"/>
<rect x="632.11" y="170.47" width="11.00" height="2.17" rx="1.08" fill="#000" fill-opacity="0.70"/>
<rect x="646.80" y="170.55" width="11.00" height="2.00" rx="1.00" fill="#000" fill-opacity="0.60"/>
<rect x="661.74" y="170.63" width="10.50" height="1.84" rx="0.92" fill="#000" fill-opacity="0.40"/>
</g>
</g>
<rect x="497.00" y="165.00" width="177.60" height="12.60" fill="none" stroke="#444" stroke-width="0.9"/>
<text x="520.39" y="182.70" font-size="6.00" text-anchor="middle" fill="#222">1.39</text>
<text x="535.08" y="182.70" font-size="6.00" text-anchor="middle" fill="#222">1.33</text>
<text x="549.77" y="182.70" font-size="6.00" text-anchor="middle" fill="#222">1.09</text>
<text x="564.46" y="182.70" font-size="6.00" text-anchor="middle" fill="#222">0.8</text>
<text x="579.15" y="182.70" font-size="6.00" text-anchor="middle" fill="#222">1</text>
<text x="608.53" y="182.70" font-size="6.00" text-anchor="middle" fill="#222">1.18</text>
<text x="623.22" y="182.70" font-size="6.00" text-anchor="middle" fill="#222">0.48</text>
<text x="637.91" y="182.70" font-size="6.00" text-anchor="middle" fill="#222">0.67</text>
<text x="652.60" y="182.70" font-size="6.00" text-anchor="middle" fill="#222">0.51</text>
<text x="667.29" y="182.70" font-size="6.00" text-anchor="middle" fill="#222">0.38</text>
<clipPath id="c831"><rect x="497.00" y="186.40" width="177.60" height="12.60"/></clipPath>
<rect x="497.00" y="186.40" width="177.60" height="12.60" fill="#c9c9c9"/>
<g clip-path="url(#c831)">
<g filter="url(#h1)">
<rect x="499.65" y="190.65" width="11.50" height="3.60" rx="1.60" fill="#000" fill-opacity="0.06"/>
<rect x="514.09" y="190.45" width="12.00" height="4.00" rx="1.60" fill="#000" fill-opacity="0.12"/>
<rect x="528.78" y="190.35" width="12.00" height="4.20" rx="1.60" fill="#000" fill-opacity="0.14"/>
<rect x="542.97" y="190.15" width="13.00" height="4.60" rx="1.60" fill="#000" fill-opacity="0.18"/>
<rect x="557.66" y="190.05" width="13.00" height="4.80" rx="1.60" fill="#000" fill-opacity="0.19"/>
<rect x="572.60" y="190.25" width="12.50" height="4.40" rx="1.60" fill="#000" fill-opacity="0.18"/>
<rect x="587.79" y="190.65" width="11.50" height="3.60" rx="1.60" fill="#000" fill-opacity="0.02"/>
<rect x="602.23" y="190.55" width="12.00" height="3.80" rx="1.60" fill="#000" fill-opacity="0.08"/>
<rect x="616.92" y="190.45" width="12.00" height="4.00" rx="1.60" fill="#000" fill-opacity="0.14"/>
<rect x="631.11" y="190.25" width="13.00" height="4.40" rx="1.60" fill="#000" fill-opacity="0.18"/>
<rect x="645.80" y="190.15" width="13.00" height="4.60" rx="1.60" fill="#000" fill-opacity="0.19"/>
<rect x="660.24" y="189.95" width="13.50" height="5.00" rx="1.60" fill="#000" fill-opacity="0.20"/>
</g>
<g filter="url(#b1)">
<rect x="500.40" y="191.69" width="10.00" height="1.51" rx="0.76" fill="#000" fill-opacity="0.30"/>
<rect x="514.84" y="191.53" width="10.50" height="1.84" rx="0.92" fill="#000" fill-opacity="0.60"/>
<rect x="529.53" y="191.45" width="10.50" height="2.00" rx="1.00" fill="#000" fill-opacity="0.70"/>
<rect x="543.72" y="191.28" width="11.50" height="2.33" rx="1.17" fill="#000" fill-opacity="0.90"/>
<rect x="558.41" y="191.20" width="11.50" height="2.50" rx="1.25" fill="#000" fill-opacity="0.95"/>
<rect x="573.35" y="191.36" width="11.00" height="2.17" rx="1.08" fill="#000" fill-opacity="0.90"/>
<rect x="588.54" y="191.69" width="10.00" height="1.51" rx="0.76" fill="#000" fill-opacity="0.12"/>
<rect x="602.98" y="191.61" width="10.50" height="1.68" rx="0.84" fill="#000" fill-opacity="0.40"/>
<rect x="617.67" y="191.53" width="10.50" height="1.84" rx="0.92" fill="#000" fill-opacity="0.70"/>
<rect x="631.86" y="191.36" width="11.50" height="2.17" rx="1.08" fill="#000" fill-opacity="0.90"/>
<rect x="646.55" y="191.28" width="11.50" height="2.33" rx="1.17" fill="#000" fill-opacity="0.95"/>
<rect x="660.99" y="191.12" width="12.00" height="2.66" rx="1.33" fill="#000" fill-opacity="1.00"/>
</g>
</g>
<rect x="497.00" y="186.40" width="177.60" height="12.60" fill="none" stroke="#444" stroke-width="0.9"/>
<text x="505.70" y="204.70" font-size="6.00" text-anchor="middle" fill="#222">0.24</text>
<text x="520.39" y="204.70" font-size="6.00" text-anchor="middle" fill="#222">0.47</text>
<text x="535.08" y="204.70" font-size="6.00" text-anchor="middle" fill="#222">0.63</text>
<text x="549.77" y="204.70" font-size="6.00" text-anchor="middle" fill="#222">1.05</text>
<text x="564.46" y="204.70" font-size="6.00" text-anchor="middle" fill="#222">1.17</text>
<text x="579.15" y="204.70" font-size="6.00" text-anchor="middle" fill="#222">1</text>
<text x="593.84" y="204.70" font-size="6.00" text-anchor="middle" fill="#222">0.15</text>
<text x="608.53" y="204.70" font-size="6.00" text-anchor="middle" fill="#222">0.42</text>
<text x="623.22" y="204.70" font-size="6.00" text-anchor="middle" fill="#222">0.71</text>
<text x="637.91" y="204.70" font-size="6.00" text-anchor="middle" fill="#222">0.93</text>
<text x="652.60" y="204.70" font-size="6.00" text-anchor="middle" fill="#222">1.31</text>
<text x="667.29" y="204.70" font-size="6.00" text-anchor="middle" fill="#222">1.29</text>
<clipPath id="c876"><rect x="497.00" y="208.00" width="177.60" height="12.40"/></clipPath>
<rect x="497.00" y="208.00" width="177.60" height="12.40" fill="#bebebe"/>
<g clip-path="url(#c876)">
<g filter="url(#h1)">
<rect x="499.15" y="210.41" width="12.50" height="4.60" rx="1.60" fill="#000" fill-opacity="0.18"/>
<rect x="513.84" y="210.41" width="12.50" height="4.60" rx="1.60" fill="#000" fill-opacity="0.18"/>
<rect x="528.53" y="210.51" width="12.50" height="4.40" rx="1.60" fill="#000" fill-opacity="0.17"/>
<rect x="543.22" y="210.61" width="12.50" height="4.20" rx="1.60" fill="#000" fill-opacity="0.16"/>
<rect x="557.91" y="210.61" width="12.50" height="4.20" rx="1.60" fill="#000" fill-opacity="0.16"/>
<rect x="572.60" y="210.61" width="12.50" height="4.20" rx="1.60" fill="#000" fill-opacity="0.16"/>
<rect x="587.04" y="210.31" width="13.00" height="4.80" rx="1.60" fill="#000" fill-opacity="0.19"/>
<rect x="601.73" y="210.51" width="13.00" height="4.40" rx="1.60" fill="#000" fill-opacity="0.18"/>
<rect x="616.42" y="210.41" width="13.00" height="4.60" rx="1.60" fill="#000" fill-opacity="0.18"/>
<rect x="631.11" y="210.31" width="13.00" height="4.80" rx="1.60" fill="#000" fill-opacity="0.19"/>
<rect x="645.80" y="210.51" width="13.00" height="4.40" rx="1.60" fill="#000" fill-opacity="0.18"/>
<rect x="660.24" y="210.31" width="13.50" height="4.80" rx="1.60" fill="#000" fill-opacity="0.19"/>
</g>
<g filter="url(#b1)">
<rect x="499.90" y="211.55" width="11.00" height="2.33" rx="1.17" fill="#000" fill-opacity="0.90"/>
<rect x="514.59" y="211.55" width="11.00" height="2.33" rx="1.17" fill="#000" fill-opacity="0.90"/>
<rect x="529.28" y="211.63" width="11.00" height="2.17" rx="1.08" fill="#000" fill-opacity="0.85"/>
<rect x="543.97" y="211.71" width="11.00" height="2.00" rx="1.00" fill="#000" fill-opacity="0.80"/>
<rect x="558.66" y="211.71" width="11.00" height="2.00" rx="1.00" fill="#000" fill-opacity="0.80"/>
<rect x="573.35" y="211.71" width="11.00" height="2.00" rx="1.00" fill="#000" fill-opacity="0.80"/>
<rect x="587.79" y="211.46" width="11.50" height="2.50" rx="1.25" fill="#000" fill-opacity="0.95"/>
<rect x="602.48" y="211.63" width="11.50" height="2.17" rx="1.08" fill="#000" fill-opacity="0.90"/>
<rect x="617.17" y="211.55" width="11.50" height="2.33" rx="1.17" fill="#000" fill-opacity="0.90"/>
<rect x="631.86" y="211.46" width="11.50" height="2.50" rx="1.25" fill="#000" fill-opacity="0.95"/>
<rect x="646.55" y="211.63" width="11.50" height="2.17" rx="1.08" fill="#000" fill-opacity="0.90"/>
<rect x="660.99" y="211.46" width="12.00" height="2.50" rx="1.25" fill="#000" fill-opacity="0.95"/>
</g>
</g>
<rect x="497.00" y="208.00" width="177.60" height="12.40" fill="none" stroke="#444" stroke-width="0.9"/>
<text x="494.20" y="174.60" font-size="9.00" text-anchor="end" fill="#1c1c1c">P-STAT3</text>
<text x="494.20" y="196.00" font-size="9.00" text-anchor="end" fill="#1c1c1c">STAT3</text>
<text x="494.20" y="217.40" font-size="9.00" text-anchor="end" fill="#1c1c1c">actin</text>
<text x="14.60" y="254.00" font-size="15.50" text-anchor="start" fill="#1c1c1c">e</text>
<line x1="60.40" y1="377.00" x2="60.40" y2="376.40" stroke="#444" stroke-width="0.80"/>
<line x1="58.80" y1="376.40" x2="62.00" y2="376.40" stroke="#444" stroke-width="0.80"/>
<rect x="57.15" y="377.00" width="6.50" height="1.45" fill="#d6d8d6"/>
<line x1="68.60" y1="376.60" x2="68.60" y2="376.00" stroke="#444" stroke-width="0.80"/>
<line x1="67.00" y1="376.00" x2="70.20" y2="376.00" stroke="#444" stroke-width="0.80"/>
<rect x="65.35" y="376.60" width="6.50" height="1.85" fill="#4cb050"/>
<line x1="81.80" y1="344.00" x2="81.80" y2="340.40" stroke="#444" stroke-width="0.80"/>
<line x1="80.20" y1="340.40" x2="83.40" y2="340.40" stroke="#444" stroke-width="0.80"/>
<rect x="78.55" y="344.00" width="6.50" height="34.45" fill="#d6d8d6"/>
<line x1="90.00" y1="276.80" x2="90.00" y2="267.40" stroke="#444" stroke-width="0.80"/>
<line x1="88.40" y1="267.40" x2="91.60" y2="267.40" stroke="#444" stroke-width="0.80"/>
<rect x="86.75" y="276.80" width="6.50" height="101.65" fill="#4cb050"/>
<line x1="103.20" y1="367.20" x2="103.20" y2="366.20" stroke="#444" stroke-width="0.80"/>
<line x1="101.60" y1="366.20" x2="104.80" y2="366.20" stroke="#444" stroke-width="0.80"/>
<rect x="99.95" y="367.20" width="6.50" height="11.25" fill="#d6d8d6"/>
<line x1="111.40" y1="334.40" x2="111.40" y2="332.80" stroke="#444" stroke-width="0.80"/>
<line x1="109.80" y1="332.80" x2="113.00" y2="332.80" stroke="#444" stroke-width="0.80"/>
<rect x="108.15" y="334.40" width="6.50" height="44.05" fill="#4cb050"/>
<line x1="124.50" y1="377.20" x2="124.50" y2="376.60" stroke="#444" stroke-width="0.80"/>
<line x1="122.90" y1="376.60" x2="126.10" y2="376.60" stroke="#444" stroke-width="0.80"/>
<rect x="121.25" y="377.20" width="6.50" height="1.25" fill="#d6d8d6"/>
<line x1="132.70" y1="362.40" x2="132.70" y2="359.40" stroke="#444" stroke-width="0.80"/>
<line x1="131.10" y1="359.40" x2="134.30" y2="359.40" stroke="#444" stroke-width="0.80"/>
<rect x="129.45" y="362.40" width="6.50" height="16.05" fill="#4cb050"/>
<line x1="54.25" y1="250.40" x2="54.25" y2="378.45" stroke="#3c3c3c" stroke-width="0.95"/>
<line x1="50.20" y1="378.45" x2="140.00" y2="378.45" stroke="#3c3c3c" stroke-width="0.95"/>
<line x1="50.45" y1="250.40" x2="53.95" y2="250.40" stroke="#333" stroke-width="0.80"/>
<text x="49.30" y="252.35" font-size="8.30" text-anchor="end" fill="#1c1c1c">75</text>
<line x1="50.45" y1="276.50" x2="53.95" y2="276.50" stroke="#333" stroke-width="0.80"/>
<text x="49.30" y="278.45" font-size="8.30" text-anchor="end" fill="#1c1c1c">60</text>
<line x1="50.45" y1="301.80" x2="53.95" y2="301.80" stroke="#333" stroke-width="0.80"/>
<text x="49.30" y="303.75" font-size="8.30" text-anchor="end" fill="#1c1c1c">45</text>
<line x1="50.45" y1="327.50" x2="53.95" y2="327.50" stroke="#333" stroke-width="0.80"/>
<text x="49.30" y="329.45" font-size="8.30" text-anchor="end" fill="#1c1c1c">30</text>
<line x1="50.45" y1="353.10" x2="53.95" y2="353.10" stroke="#333" stroke-width="0.80"/>
<text x="49.30" y="355.05" font-size="8.30" text-anchor="end" fill="#1c1c1c">15</text>
<line x1="50.45" y1="378.45" x2="53.95" y2="378.45" stroke="#333" stroke-width="0.80"/>
<text x="49.30" y="380.40" font-size="8.30" text-anchor="end" fill="#1c1c1c">0</text>
<line x1="81.40" y1="262.00" x2="90.00" y2="262.00" stroke="#777" stroke-width="0.70"/>
<text x="85.70" y="262.50" font-size="5.00" text-anchor="middle" fill="#4a4a4a" stroke="none">***</text>
<line x1="102.40" y1="328.20" x2="111.00" y2="328.20" stroke="#777" stroke-width="0.70"/>
<text x="106.70" y="328.70" font-size="5.00" text-anchor="middle" fill="#4a4a4a" stroke="none">***</text>
<line x1="123.00" y1="356.20" x2="132.00" y2="356.20" stroke="#777" stroke-width="0.70"/>
<text x="127.50" y="356.70" font-size="5.00" text-anchor="middle" fill="#4a4a4a" stroke="none">**</text>
<text x="32.60" y="312.50" font-size="9.00" text-anchor="middle" fill="#1c1c1c" transform="rotate(-90 32.60 312.50)">Ifn<tspan font-family="Liberation Serif, serif">β</tspan>1 mRNA (fold)</text>
<text x="65.60" y="389.20" font-size="8.30" text-anchor="middle" fill="#1c1c1c">0h</text>
<text x="86.80" y="389.20" font-size="8.30" text-anchor="middle" fill="#1c1c1c">3h</text>
<text x="107.60" y="389.20" font-size="8.30" text-anchor="middle" fill="#1c1c1c">6h</text>
<text x="129.60" y="389.20" font-size="8.30" text-anchor="middle" fill="#1c1c1c">12h</text>
<line x1="211.25" y1="366.60" x2="211.25" y2="366.00" stroke="#444" stroke-width="0.80"/>
<line x1="209.65" y1="366.00" x2="212.85" y2="366.00" stroke="#444" stroke-width="0.80"/>
<rect x="208.05" y="366.60" width="6.40" height="11.40" fill="#d6d8d6"/>
<line x1="219.25" y1="277.60" x2="219.25" y2="277.20" stroke="#444" stroke-width="0.80"/>
<line x1="217.65" y1="277.20" x2="220.85" y2="277.20" stroke="#444" stroke-width="0.80"/>
<rect x="216.05" y="277.60" width="6.40" height="100.40" fill="#4cb050"/>
<line x1="232.25" y1="369.00" x2="232.25" y2="368.40" stroke="#444" stroke-width="0.80"/>
<line x1="230.65" y1="368.40" x2="233.85" y2="368.40" stroke="#444" stroke-width="0.80"/>
<rect x="229.05" y="369.00" width="6.40" height="9.00" fill="#d6d8d6"/>
<line x1="240.25" y1="285.00" x2="240.25" y2="272.00" stroke="#444" stroke-width="0.80"/>
<line x1="238.65" y1="272.00" x2="241.85" y2="272.00" stroke="#444" stroke-width="0.80"/>
<rect x="237.05" y="285.00" width="6.40" height="93.00" fill="#4cb050"/>
<line x1="253.05" y1="373.60" x2="253.05" y2="373.00" stroke="#444" stroke-width="0.80"/>
<line x1="251.45" y1="373.00" x2="254.65" y2="373.00" stroke="#444" stroke-width="0.80"/>
<rect x="249.85" y="373.60" width="6.40" height="4.40" fill="#d6d8d6"/>
<line x1="261.05" y1="332.60" x2="261.05" y2="326.40" stroke="#444" stroke-width="0.80"/>
<line x1="259.45" y1="326.40" x2="262.65" y2="326.40" stroke="#444" stroke-width="0.80"/>
<rect x="257.85" y="332.60" width="6.40" height="45.40" fill="#4cb050"/>
<line x1="183.65" y1="249.40" x2="183.65" y2="310.40" stroke="#3c3c3c" stroke-width="0.95"/>
<line x1="183.65" y1="317.60" x2="183.65" y2="378.00" stroke="#3c3c3c" stroke-width="0.95"/>
<line x1="180.00" y1="378.00" x2="268.00" y2="378.00" stroke="#3c3c3c" stroke-width="0.95"/>
<line x1="179.85" y1="249.40" x2="183.35" y2="249.40" stroke="#333" stroke-width="0.80"/>
<text x="178.80" y="251.35" font-size="8.30" text-anchor="end" fill="#1c1c1c">7.5</text>
<line x1="179.85" y1="273.40" x2="183.35" y2="273.40" stroke="#333" stroke-width="0.80"/>
<text x="178.80" y="275.35" font-size="8.30" text-anchor="end" fill="#1c1c1c">6.0</text>
<line x1="179.85" y1="297.00" x2="183.35" y2="297.00" stroke="#333" stroke-width="0.80"/>
<text x="178.80" y="298.95" font-size="8.30" text-anchor="end" fill="#1c1c1c">4.5</text>
<text x="178.80" y="320.35" font-size="8.30" text-anchor="end" fill="#1c1c1c">2.5</text>
<line x1="179.85" y1="348.40" x2="183.35" y2="348.40" stroke="#333" stroke-width="0.80"/>
<text x="178.80" y="350.35" font-size="8.30" text-anchor="end" fill="#1c1c1c">1.2</text>
<line x1="179.85" y1="378.00" x2="183.35" y2="378.00" stroke="#333" stroke-width="0.80"/>
<text x="178.80" y="379.95" font-size="8.30" text-anchor="end" fill="#1c1c1c">0</text>
<line x1="211.00" y1="272.00" x2="219.60" y2="272.00" stroke="#777" stroke-width="0.70"/>
<text x="215.30" y="272.50" font-size="5.00" text-anchor="middle" fill="#4a4a4a" stroke="none">***</text>
<line x1="231.00" y1="267.00" x2="239.40" y2="267.00" stroke="#777" stroke-width="0.70"/>
<text x="235.20" y="267.50" font-size="5.00" text-anchor="middle" fill="#4a4a4a" stroke="none">***</text>
<line x1="252.40" y1="321.00" x2="261.00" y2="321.00" stroke="#777" stroke-width="0.70"/>
<text x="256.70" y="321.50" font-size="5.00" text-anchor="middle" fill="#4a4a4a" stroke="none">***</text>
<text x="160.00" y="302.50" font-size="9.00" text-anchor="middle" fill="#1c1c1c" transform="rotate(-90 160.00 302.50)">Ciita mRNA (fold) ×10<tspan font-size="5" dy="-3">2</tspan></text>
<text x="195.60" y="389.20" font-size="8.30" text-anchor="middle" fill="#1c1c1c">0h</text>
<text x="216.80" y="389.20" font-size="8.30" text-anchor="middle" fill="#1c1c1c">3h</text>
<text x="237.60" y="389.20" font-size="8.30" text-anchor="middle" fill="#1c1c1c">6h</text>
<text x="259.60" y="389.20" font-size="8.30" text-anchor="middle" fill="#1c1c1c">12h</text>
<rect x="207.00" y="309.40" width="60.00" height="9.00" fill="#fff"/>
<line x1="326.50" y1="376.60" x2="326.50" y2="376.20" stroke="#444" stroke-width="0.80"/>
<line x1="324.90" y1="376.20" x2="328.10" y2="376.20" stroke="#444" stroke-width="0.80"/>
<rect x="323.25" y="376.60" width="6.50" height="1.85" fill="#d6d8d6"/>
<line x1="334.50" y1="376.40" x2="334.50" y2="376.00" stroke="#444" stroke-width="0.80"/>
<line x1="332.90" y1="376.00" x2="336.10" y2="376.00" stroke="#444" stroke-width="0.80"/>
<rect x="331.25" y="376.40" width="6.50" height="2.05" fill="#4cb050"/>
<line x1="347.10" y1="369.00" x2="347.10" y2="367.00" stroke="#444" stroke-width="0.80"/>
<line x1="345.50" y1="367.00" x2="348.70" y2="367.00" stroke="#444" stroke-width="0.80"/>
<rect x="343.85" y="369.00" width="6.50" height="9.45" fill="#d6d8d6"/>
<line x1="355.10" y1="357.00" x2="355.10" y2="356.60" stroke="#444" stroke-width="0.80"/>
<line x1="353.50" y1="356.60" x2="356.70" y2="356.60" stroke="#444" stroke-width="0.80"/>
<rect x="351.85" y="357.00" width="6.50" height="21.45" fill="#4cb050"/>
<line x1="367.70" y1="361.00" x2="367.70" y2="359.40" stroke="#444" stroke-width="0.80"/>
<line x1="366.10" y1="359.40" x2="369.30" y2="359.40" stroke="#444" stroke-width="0.80"/>
<rect x="364.45" y="361.00" width="6.50" height="17.45" fill="#d6d8d6"/>
<line x1="375.70" y1="308.20" x2="375.70" y2="307.80" stroke="#444" stroke-width="0.80"/>
<line x1="374.10" y1="307.80" x2="377.30" y2="307.80" stroke="#444" stroke-width="0.80"/>
<rect x="372.45" y="308.20" width="6.50" height="70.25" fill="#4cb050"/>
<line x1="388.50" y1="330.60" x2="388.50" y2="327.40" stroke="#444" stroke-width="0.80"/>
<line x1="386.90" y1="327.40" x2="390.10" y2="327.40" stroke="#444" stroke-width="0.80"/>
<rect x="385.25" y="330.60" width="6.50" height="47.85" fill="#d6d8d6"/>
<line x1="396.50" y1="259.40" x2="396.50" y2="255.60" stroke="#444" stroke-width="0.80"/>
<line x1="394.90" y1="255.60" x2="398.10" y2="255.60" stroke="#444" stroke-width="0.80"/>
<rect x="393.25" y="259.40" width="6.50" height="119.05" fill="#4cb050"/>
<line x1="319.50" y1="250.00" x2="319.50" y2="310.60" stroke="#3c3c3c" stroke-width="0.95"/>
<line x1="319.50" y1="317.60" x2="319.50" y2="378.45" stroke="#3c3c3c" stroke-width="0.95"/>
<line x1="316.10" y1="378.45" x2="403.60" y2="378.45" stroke="#3c3c3c" stroke-width="0.95"/>
<line x1="315.70" y1="250.00" x2="319.20" y2="250.00" stroke="#333" stroke-width="0.80"/>
<text x="314.60" y="251.95" font-size="8.30" text-anchor="end" fill="#1c1c1c">5.0</text>
<line x1="315.70" y1="263.20" x2="319.20" y2="263.20" stroke="#333" stroke-width="0.80"/>
<text x="314.60" y="265.15" font-size="8.30" text-anchor="end" fill="#1c1c1c">4.0</text>
<line x1="315.70" y1="276.20" x2="319.20" y2="276.20" stroke="#333" stroke-width="0.80"/>
<text x="314.60" y="278.15" font-size="8.30" text-anchor="end" fill="#1c1c1c">3.0</text>
<line x1="315.70" y1="289.00" x2="319.20" y2="289.00" stroke="#333" stroke-width="0.80"/>
<text x="314.60" y="290.95" font-size="8.30" text-anchor="end" fill="#1c1c1c">2.0</text>
<line x1="315.70" y1="301.60" x2="319.20" y2="301.60" stroke="#333" stroke-width="0.80"/>
<text x="314.60" y="303.55" font-size="8.30" text-anchor="end" fill="#1c1c1c">1.0</text>
<text x="314.60" y="320.75" font-size="8.30" text-anchor="end" fill="#1c1c1c">0.4</text>
<line x1="315.70" y1="348.60" x2="319.20" y2="348.60" stroke="#333" stroke-width="0.80"/>
<text x="314.60" y="350.55" font-size="8.30" text-anchor="end" fill="#1c1c1c">0.2</text>
<line x1="315.70" y1="378.45" x2="319.20" y2="378.45" stroke="#333" stroke-width="0.80"/>
<text x="314.60" y="380.40" font-size="8.30" text-anchor="end" fill="#1c1c1c">0</text>
<line x1="346.00" y1="352.40" x2="354.60" y2="352.40" stroke="#777" stroke-width="0.70"/>
<text x="350.30" y="352.90" font-size="5.00" text-anchor="middle" fill="#4a4a4a" stroke="none">***</text>
<line x1="366.40" y1="304.00" x2="375.00" y2="304.00" stroke="#777" stroke-width="0.70"/>
<text x="370.70" y="304.50" font-size="5.00" text-anchor="middle" fill="#4a4a4a" stroke="none">***</text>
<line x1="387.00" y1="252.60" x2="396.00" y2="252.60" stroke="#777" stroke-width="0.70"/>
<text x="391.50" y="253.10" font-size="5.00" text-anchor="middle" fill="#4a4a4a" stroke="none">***</text>
<text x="296.00" y="303.50" font-size="9.00" text-anchor="middle" fill="#1c1c1c" transform="rotate(-90 296.00 303.50)">iNOS mRNA (fold) ×10<tspan font-size="5" dy="-3">2</tspan></text>
<text x="331.60" y="389.20" font-size="8.30" text-anchor="middle" fill="#1c1c1c">0h</text>
<text x="352.60" y="389.20" font-size="8.30" text-anchor="middle" fill="#1c1c1c">3h</text>
<text x="373.20" y="389.20" font-size="8.30" text-anchor="middle" fill="#1c1c1c">6h</text>
<text x="394.40" y="389.20" font-size="8.30" text-anchor="middle" fill="#1c1c1c">12h</text>
<rect x="343.00" y="309.80" width="60.00" height="9.00" fill="#fff"/>
<line x1="180.65" y1="313.40" x2="186.65" y2="307.40" stroke="#333" stroke-width="0.90"/>
<line x1="180.65" y1="321.00" x2="186.65" y2="315.00" stroke="#333" stroke-width="0.90"/>
<line x1="316.50" y1="313.40" x2="322.50" y2="307.40" stroke="#333" stroke-width="0.90"/>
<line x1="316.50" y1="321.00" x2="322.50" y2="315.00" stroke="#333" stroke-width="0.90"/>
<line x1="456.50" y1="376.80" x2="456.50" y2="376.40" stroke="#444" stroke-width="0.80"/>
<line x1="454.90" y1="376.40" x2="458.10" y2="376.40" stroke="#444" stroke-width="0.80"/>
<rect x="453.25" y="376.80" width="6.50" height="1.00" fill="#d6d8d6"/>
<line x1="464.50" y1="376.60" x2="464.50" y2="376.20" stroke="#444" stroke-width="0.80"/>
<line x1="462.90" y1="376.20" x2="466.10" y2="376.20" stroke="#444" stroke-width="0.80"/>
<rect x="461.25" y="376.60" width="6.50" height="1.20" fill="#4cb050"/>
<line x1="477.10" y1="376.60" x2="477.10" y2="376.20" stroke="#444" stroke-width="0.80"/>
<line x1="475.50" y1="376.20" x2="478.70" y2="376.20" stroke="#444" stroke-width="0.80"/>
<rect x="473.85" y="376.60" width="6.50" height="1.20" fill="#d6d8d6"/>
<line x1="485.10" y1="366.40" x2="485.10" y2="366.00" stroke="#444" stroke-width="0.80"/>
<line x1="483.50" y1="366.00" x2="486.70" y2="366.00" stroke="#444" stroke-width="0.80"/>
<rect x="481.85" y="366.40" width="6.50" height="11.40" fill="#4cb050"/>
<line x1="497.50" y1="372.00" x2="497.50" y2="371.00" stroke="#444" stroke-width="0.80"/>
<line x1="495.90" y1="371.00" x2="499.10" y2="371.00" stroke="#444" stroke-width="0.80"/>
<rect x="494.25" y="372.00" width="6.50" height="5.80" fill="#d6d8d6"/>
<line x1="505.50" y1="350.20" x2="505.50" y2="347.40" stroke="#444" stroke-width="0.80"/>
<line x1="503.90" y1="347.40" x2="507.10" y2="347.40" stroke="#444" stroke-width="0.80"/>
<rect x="502.25" y="350.20" width="6.50" height="27.60" fill="#4cb050"/>
<line x1="518.10" y1="356.00" x2="518.10" y2="354.40" stroke="#444" stroke-width="0.80"/>
<line x1="516.50" y1="354.40" x2="519.70" y2="354.40" stroke="#444" stroke-width="0.80"/>
<rect x="514.85" y="356.00" width="6.50" height="21.80" fill="#d6d8d6"/>
<line x1="526.10" y1="270.60" x2="526.10" y2="260.40" stroke="#444" stroke-width="0.80"/>
<line x1="524.50" y1="260.40" x2="527.70" y2="260.40" stroke="#444" stroke-width="0.80"/>
<rect x="522.85" y="270.60" width="6.50" height="107.20" fill="#4cb050"/>
<line x1="449.50" y1="250.00" x2="449.50" y2="377.80" stroke="#3c3c3c" stroke-width="0.95"/>
<line x1="446.10" y1="377.80" x2="533.40" y2="377.80" stroke="#3c3c3c" stroke-width="0.95"/>
<line x1="445.70" y1="250.00" x2="449.20" y2="250.00" stroke="#333" stroke-width="0.80"/>
<text x="444.40" y="251.95" font-size="8.30" text-anchor="end" fill="#1c1c1c">100</text>
<line x1="445.70" y1="282.40" x2="449.20" y2="282.40" stroke="#333" stroke-width="0.80"/>
<text x="444.40" y="284.35" font-size="8.30" text-anchor="end" fill="#1c1c1c">75</text>
<line x1="445.70" y1="314.00" x2="449.20" y2="314.00" stroke="#333" stroke-width="0.80"/>
<text x="444.40" y="315.95" font-size="8.30" text-anchor="end" fill="#1c1c1c">50</text>
<line x1="445.70" y1="345.60" x2="449.20" y2="345.60" stroke="#333" stroke-width="0.80"/>
<text x="444.40" y="347.55" font-size="8.30" text-anchor="end" fill="#1c1c1c">25</text>
<line x1="445.70" y1="377.80" x2="449.20" y2="377.80" stroke="#333" stroke-width="0.80"/>
<text x="444.40" y="379.75" font-size="8.30" text-anchor="end" fill="#1c1c1c">0</text>
<line x1="476.40" y1="359.40" x2="485.00" y2="359.40" stroke="#777" stroke-width="0.70"/>
<text x="480.70" y="359.90" font-size="5.00" text-anchor="middle" fill="#4a4a4a" stroke="none">***</text>
<line x1="497.00" y1="340.60" x2="505.60" y2="340.60" stroke="#777" stroke-width="0.70"/>
<text x="501.30" y="341.10" font-size="5.00" text-anchor="middle" fill="#4a4a4a" stroke="none">***</text>
<line x1="517.00" y1="254.40" x2="526.00" y2="254.40" stroke="#777" stroke-width="0.70"/>
<text x="521.50" y="254.90" font-size="5.00" text-anchor="middle" fill="#4a4a4a" stroke="none">***</text>
<text x="428.00" y="312.00" font-size="9.00" text-anchor="middle" fill="#1c1c1c" transform="rotate(-90 428.00 312.00)">Pdl1 mRNA (fold)</text>
<text x="461.40" y="389.20" font-size="8.30" text-anchor="middle" fill="#1c1c1c">0h</text>
<text x="482.00" y="389.20" font-size="8.30" text-anchor="middle" fill="#1c1c1c">3h</text>
<text x="502.60" y="389.20" font-size="8.30" text-anchor="middle" fill="#1c1c1c">6h</text>
<text x="524.00" y="389.20" font-size="8.30" text-anchor="middle" fill="#1c1c1c">12h</text>
<line x1="581.70" y1="362.00" x2="581.70" y2="358.60" stroke="#444" stroke-width="0.80"/>
<line x1="580.10" y1="358.60" x2="583.30" y2="358.60" stroke="#444" stroke-width="0.80"/>
<rect x="578.45" y="362.00" width="6.50" height="16.45" fill="#d6d8d6"/>
<line x1="589.90" y1="359.60" x2="589.90" y2="356.40" stroke="#444" stroke-width="0.80"/>
<line x1="588.30" y1="356.40" x2="591.50" y2="356.40" stroke="#444" stroke-width="0.80"/>
<rect x="586.65" y="359.60" width="6.50" height="18.85" fill="#4cb050"/>
<line x1="602.70" y1="338.00" x2="602.70" y2="332.60" stroke="#444" stroke-width="0.80"/>
<line x1="601.10" y1="332.60" x2="604.30" y2="332.60" stroke="#444" stroke-width="0.80"/>
<rect x="599.45" y="338.00" width="6.50" height="40.45" fill="#d6d8d6"/>
<line x1="610.90" y1="279.00" x2="610.90" y2="275.40" stroke="#444" stroke-width="0.80"/>
<line x1="609.30" y1="275.40" x2="612.50" y2="275.40" stroke="#444" stroke-width="0.80"/>
<rect x="607.65" y="279.00" width="6.50" height="99.45" fill="#4cb050"/>
<line x1="623.50" y1="352.00" x2="623.50" y2="350.60" stroke="#444" stroke-width="0.80"/>
<line x1="621.90" y1="350.60" x2="625.10" y2="350.60" stroke="#444" stroke-width="0.80"/>
<rect x="620.25" y="352.00" width="6.50" height="26.45" fill="#d6d8d6"/>
<line x1="631.70" y1="308.40" x2="631.70" y2="301.00" stroke="#444" stroke-width="0.80"/>
<line x1="630.10" y1="301.00" x2="633.30" y2="301.00" stroke="#444" stroke-width="0.80"/>
<rect x="628.45" y="308.40" width="6.50" height="70.05" fill="#4cb050"/>
<line x1="644.30" y1="357.40" x2="644.30" y2="355.40" stroke="#444" stroke-width="0.80"/>
<line x1="642.70" y1="355.40" x2="645.90" y2="355.40" stroke="#444" stroke-width="0.80"/>
<rect x="641.05" y="357.40" width="6.50" height="21.05" fill="#d6d8d6"/>
<line x1="652.50" y1="329.40" x2="652.50" y2="326.40" stroke="#444" stroke-width="0.80"/>
<line x1="650.90" y1="326.40" x2="654.10" y2="326.40" stroke="#444" stroke-width="0.80"/>
<rect x="649.25" y="329.40" width="6.50" height="49.05" fill="#4cb050"/>
<line x1="575.50" y1="249.30" x2="575.50" y2="378.45" stroke="#3c3c3c" stroke-width="0.95"/>
<line x1="572.00" y1="378.45" x2="659.60" y2="378.45" stroke="#3c3c3c" stroke-width="0.95"/>
<line x1="571.70" y1="249.30" x2="575.20" y2="249.30" stroke="#333" stroke-width="0.80"/>
<text x="569.60" y="251.25" font-size="8.30" text-anchor="end" fill="#1c1c1c">8</text>
<line x1="571.70" y1="281.50" x2="575.20" y2="281.50" stroke="#333" stroke-width="0.80"/>
<text x="569.60" y="283.45" font-size="8.30" text-anchor="end" fill="#1c1c1c">6</text>
<line x1="571.70" y1="314.00" x2="575.20" y2="314.00" stroke="#333" stroke-width="0.80"/>
<text x="569.60" y="315.95" font-size="8.30" text-anchor="end" fill="#1c1c1c">4</text>
<line x1="571.70" y1="346.40" x2="575.20" y2="346.40" stroke="#333" stroke-width="0.80"/>
<text x="569.60" y="348.35" font-size="8.30" text-anchor="end" fill="#1c1c1c">2</text>
<line x1="571.70" y1="378.45" x2="575.20" y2="378.45" stroke="#333" stroke-width="0.80"/>
<text x="569.60" y="380.40" font-size="8.30" text-anchor="end" fill="#1c1c1c">0</text>
<line x1="602.60" y1="270.60" x2="611.40" y2="270.60" stroke="#777" stroke-width="0.70"/>
<text x="607.00" y="271.10" font-size="5.00" text-anchor="middle" fill="#4a4a4a" stroke="none">***</text>
<line x1="622.60" y1="295.60" x2="631.00" y2="295.60" stroke="#777" stroke-width="0.70"/>
<text x="626.80" y="296.10" font-size="5.00" text-anchor="middle" fill="#4a4a4a" stroke="none">**</text>
<line x1="644.00" y1="322.20" x2="653.00" y2="322.20" stroke="#777" stroke-width="0.70"/>
<text x="648.50" y="322.70" font-size="5.00" text-anchor="middle" fill="#4a4a4a" stroke="none">***</text>
<text x="557.20" y="312.00" font-size="9.00" text-anchor="middle" fill="#1c1c1c" transform="rotate(-90 557.20 312.00)">Tnf<tspan font-family="Liberation Serif, serif">α</tspan> mRNA (fold)</text>
<text x="586.60" y="389.20" font-size="8.30" text-anchor="middle" fill="#1c1c1c">0h</text>
<text x="607.60" y="389.20" font-size="8.30" text-anchor="middle" fill="#1c1c1c">3h</text>
<text x="628.40" y="389.20" font-size="8.30" text-anchor="middle" fill="#1c1c1c">6h</text>
<text x="650.00" y="389.20" font-size="8.30" text-anchor="middle" fill="#1c1c1c">12h</text>
<line x1="61.40" y1="545.00" x2="61.40" y2="544.60" stroke="#444" stroke-width="0.80"/>
<line x1="59.80" y1="544.60" x2="63.00" y2="544.60" stroke="#444" stroke-width="0.80"/>
<rect x="58.25" y="545.00" width="6.30" height="2.50" fill="#d6d8d6"/>
<line x1="69.40" y1="545.00" x2="69.40" y2="544.60" stroke="#444" stroke-width="0.80"/>
<line x1="67.80" y1="544.60" x2="71.00" y2="544.60" stroke="#444" stroke-width="0.80"/>
<rect x="66.25" y="545.00" width="6.30" height="2.50" fill="#4cb050"/>
<line x1="81.40" y1="445.60" x2="81.40" y2="442.00" stroke="#444" stroke-width="0.80"/>
<line x1="79.80" y1="442.00" x2="83.00" y2="442.00" stroke="#444" stroke-width="0.80"/>
<rect x="78.25" y="445.60" width="6.30" height="101.90" fill="#d6d8d6"/>
<line x1="89.40" y1="459.00" x2="89.40" y2="445.40" stroke="#444" stroke-width="0.80"/>
<line x1="87.80" y1="445.40" x2="91.00" y2="445.40" stroke="#444" stroke-width="0.80"/>
<rect x="86.25" y="459.00" width="6.30" height="88.50" fill="#4cb050"/>
<line x1="101.60" y1="477.40" x2="101.60" y2="470.40" stroke="#444" stroke-width="0.80"/>
<line x1="100.00" y1="470.40" x2="103.20" y2="470.40" stroke="#444" stroke-width="0.80"/>
<rect x="98.45" y="477.40" width="6.30" height="70.10" fill="#d6d8d6"/>
<line x1="109.60" y1="496.20" x2="109.60" y2="491.00" stroke="#444" stroke-width="0.80"/>
<line x1="108.00" y1="491.00" x2="111.20" y2="491.00" stroke="#444" stroke-width="0.80"/>
<rect x="106.45" y="496.20" width="6.30" height="51.30" fill="#4cb050"/>
<line x1="55.25" y1="420.50" x2="55.25" y2="547.50" stroke="#3c3c3c" stroke-width="0.95"/>
<line x1="51.40" y1="547.50" x2="116.20" y2="547.50" stroke="#3c3c3c" stroke-width="0.95"/>
<line x1="51.45" y1="420.50" x2="54.95" y2="420.50" stroke="#333" stroke-width="0.80"/>
<text x="49.40" y="422.45" font-size="8.30" text-anchor="end" fill="#1c1c1c">40</text>
<line x1="51.45" y1="452.40" x2="54.95" y2="452.40" stroke="#333" stroke-width="0.80"/>
<text x="49.40" y="454.35" font-size="8.30" text-anchor="end" fill="#1c1c1c">30</text>
<line x1="51.45" y1="484.20" x2="54.95" y2="484.20" stroke="#333" stroke-width="0.80"/>
<text x="49.40" y="486.15" font-size="8.30" text-anchor="end" fill="#1c1c1c">20</text>
<line x1="51.45" y1="516.00" x2="54.95" y2="516.00" stroke="#333" stroke-width="0.80"/>
<text x="49.40" y="517.95" font-size="8.30" text-anchor="end" fill="#1c1c1c">10</text>
<line x1="51.45" y1="547.50" x2="54.95" y2="547.50" stroke="#333" stroke-width="0.80"/>
<text x="49.40" y="549.45" font-size="8.30" text-anchor="end" fill="#1c1c1c">0</text>
<line x1="81.40" y1="435.60" x2="89.40" y2="435.60" stroke="#777" stroke-width="0.70"/>
<text x="85.40" y="434.00" font-size="5.00" text-anchor="middle" fill="#333" stroke="none">ns</text>
<line x1="102.40" y1="463.60" x2="110.40" y2="463.60" stroke="#777" stroke-width="0.70"/>
<text x="106.40" y="462.00" font-size="5.00" text-anchor="middle" fill="#333" stroke="none">ns</text>
<text x="31.60" y="479.00" font-size="9.00" text-anchor="middle" fill="#1c1c1c" transform="rotate(-90 31.60 479.00)">Irf1 mRNA (fold)</text>
<text x="64.80" y="559.40" font-size="8.30" text-anchor="middle" fill="#1c1c1c">0h</text>
<text x="84.80" y="559.40" font-size="8.30" text-anchor="middle" fill="#1c1c1c">6h</text>
<text x="106.00" y="559.40" font-size="8.30" text-anchor="middle" fill="#1c1c1c">12h</text>
<line x1="190.00" y1="505.60" x2="190.00" y2="502.40" stroke="#444" stroke-width="0.80"/>
<line x1="188.40" y1="502.40" x2="191.60" y2="502.40" stroke="#444" stroke-width="0.80"/>
<rect x="186.85" y="505.60" width="6.30" height="41.90" fill="#d6d8d6"/>
<line x1="198.00" y1="505.60" x2="198.00" y2="500.40" stroke="#444" stroke-width="0.80"/>
<line x1="196.40" y1="500.40" x2="199.60" y2="500.40" stroke="#444" stroke-width="0.80"/>
<rect x="194.85" y="505.60" width="6.30" height="41.90" fill="#4cb050"/>
<line x1="210.00" y1="450.00" x2="210.00" y2="449.40" stroke="#444" stroke-width="0.80"/>
<line x1="208.40" y1="449.40" x2="211.60" y2="449.40" stroke="#444" stroke-width="0.80"/>
<rect x="206.85" y="450.00" width="6.30" height="97.50" fill="#d6d8d6"/>
<line x1="218.00" y1="443.00" x2="218.00" y2="439.40" stroke="#444" stroke-width="0.80"/>
<line x1="216.40" y1="439.40" x2="219.60" y2="439.40" stroke="#444" stroke-width="0.80"/>
<rect x="214.85" y="443.00" width="6.30" height="104.50" fill="#4cb050"/>
<line x1="230.00" y1="478.00" x2="230.00" y2="473.40" stroke="#444" stroke-width="0.80"/>
<line x1="228.40" y1="473.40" x2="231.60" y2="473.40" stroke="#444" stroke-width="0.80"/>
<rect x="226.85" y="478.00" width="6.30" height="69.50" fill="#d6d8d6"/>
<line x1="238.00" y1="481.40" x2="238.00" y2="475.40" stroke="#444" stroke-width="0.80"/>
<line x1="236.40" y1="475.40" x2="239.60" y2="475.40" stroke="#444" stroke-width="0.80"/>
<rect x="234.85" y="481.40" width="6.30" height="66.10" fill="#4cb050"/>
<line x1="184.05" y1="421.60" x2="184.05" y2="547.50" stroke="#3c3c3c" stroke-width="0.95"/>
<line x1="180.20" y1="547.50" x2="244.40" y2="547.50" stroke="#3c3c3c" stroke-width="0.95"/>
<line x1="180.25" y1="421.60" x2="183.75" y2="421.60" stroke="#333" stroke-width="0.80"/>
<text x="177.40" y="423.55" font-size="8.30" text-anchor="end" fill="#1c1c1c">3</text>
<line x1="180.25" y1="463.60" x2="183.75" y2="463.60" stroke="#333" stroke-width="0.80"/>
<text x="177.40" y="465.55" font-size="8.30" text-anchor="end" fill="#1c1c1c">2</text>
<line x1="180.25" y1="505.40" x2="183.75" y2="505.40" stroke="#333" stroke-width="0.80"/>
<text x="177.40" y="507.35" font-size="8.30" text-anchor="end" fill="#1c1c1c">1</text>
<line x1="180.25" y1="547.50" x2="183.75" y2="547.50" stroke="#333" stroke-width="0.80"/>
<text x="177.40" y="549.45" font-size="8.30" text-anchor="end" fill="#1c1c1c">0</text>
<line x1="209.00" y1="433.40" x2="217.00" y2="433.40" stroke="#777" stroke-width="0.70"/>
<text x="213.00" y="431.80" font-size="5.00" text-anchor="middle" fill="#333" stroke="none">ns</text>
<line x1="230.60" y1="466.00" x2="238.60" y2="466.00" stroke="#777" stroke-width="0.70"/>
<text x="234.60" y="464.40" font-size="5.00" text-anchor="middle" fill="#333" stroke="none">ns</text>
<text x="160.00" y="479.00" font-size="9.00" text-anchor="middle" fill="#1c1c1c" transform="rotate(-90 160.00 479.00)">Irf5 mRNA (fold)</text>
<text x="193.60" y="559.40" font-size="8.30" text-anchor="middle" fill="#1c1c1c">0h</text>
<text x="213.60" y="559.40" font-size="8.30" text-anchor="middle" fill="#1c1c1c">6h</text>
<text x="234.60" y="559.40" font-size="8.30" text-anchor="middle" fill="#1c1c1c">12h</text>
<text x="257.60" y="429.40" font-size="8.80" text-anchor="start" fill="#1c1c1c">RAW264.7</text>
<rect x="249.40" y="436.40" width="4.60" height="4.60" fill="#d6d8d6"/>
<text x="258.40" y="441.40" font-size="8.70" text-anchor="start" fill="#1c1c1c">IFN-<tspan font-family="Liberation Serif, serif">γ</tspan></text>
<rect x="249.40" y="448.40" width="4.60" height="4.60" fill="#4cb050"/>
<text x="258.40" y="453.20" font-size="8.70" text-anchor="start" fill="#1c1c1c">IFN-<tspan font-family="Liberation Serif, serif">γ</tspan>+PP VII</text>
<text x="332.40" y="429.00" font-size="15.50" text-anchor="start" fill="#1c1c1c">f</text>
<line x1="375.10" y1="546.00" x2="375.10" y2="545.60" stroke="#444" stroke-width="0.80"/>
<line x1="373.50" y1="545.60" x2="376.70" y2="545.60" stroke="#444" stroke-width="0.80"/>
<rect x="371.85" y="546.00" width="6.50" height="1.80" fill="#f7ba78"/>
<line x1="383.10" y1="545.40" x2="383.10" y2="545.00" stroke="#444" stroke-width="0.80"/>
<line x1="381.50" y1="545.00" x2="384.70" y2="545.00" stroke="#444" stroke-width="0.80"/>
<rect x="379.85" y="545.40" width="6.50" height="2.40" fill="#e84140"/>
<line x1="395.50" y1="530.60" x2="395.50" y2="530.00" stroke="#444" stroke-width="0.80"/>
<line x1="393.90" y1="530.00" x2="397.10" y2="530.00" stroke="#444" stroke-width="0.80"/>
<rect x="392.25" y="530.60" width="6.50" height="17.20" fill="#f7ba78"/>
<line x1="403.50" y1="435.00" x2="403.50" y2="421.00" stroke="#444" stroke-width="0.80"/>
<line x1="401.90" y1="421.00" x2="405.10" y2="421.00" stroke="#444" stroke-width="0.80"/>
<rect x="400.25" y="435.00" width="6.50" height="112.80" fill="#e84140"/>
<line x1="416.10" y1="539.00" x2="416.10" y2="538.60" stroke="#444" stroke-width="0.80"/>
<line x1="414.50" y1="538.60" x2="417.70" y2="538.60" stroke="#444" stroke-width="0.80"/>
<rect x="412.85" y="539.00" width="6.50" height="8.80" fill="#f7ba78"/>
<line x1="424.10" y1="487.00" x2="424.10" y2="486.60" stroke="#444" stroke-width="0.80"/>
<line x1="422.50" y1="486.60" x2="425.70" y2="486.60" stroke="#444" stroke-width="0.80"/>
<rect x="420.85" y="487.00" width="6.50" height="60.80" fill="#e84140"/>
<line x1="436.50" y1="543.60" x2="436.50" y2="543.20" stroke="#444" stroke-width="0.80"/>
<line x1="434.90" y1="543.20" x2="438.10" y2="543.20" stroke="#444" stroke-width="0.80"/>
<rect x="433.25" y="543.60" width="6.50" height="4.20" fill="#f7ba78"/>
<line x1="444.50" y1="517.00" x2="444.50" y2="515.40" stroke="#444" stroke-width="0.80"/>
<line x1="442.90" y1="515.40" x2="446.10" y2="515.40" stroke="#444" stroke-width="0.80"/>
<rect x="441.25" y="517.00" width="6.50" height="30.80" fill="#e84140"/>
<line x1="368.45" y1="420.40" x2="368.45" y2="547.80" stroke="#3c3c3c" stroke-width="0.95"/>
<line x1="364.90" y1="547.80" x2="451.60" y2="547.80" stroke="#3c3c3c" stroke-width="0.95"/>
<line x1="364.65" y1="420.40" x2="368.15" y2="420.40" stroke="#333" stroke-width="0.80"/>
<text x="362.40" y="422.35" font-size="8.30" text-anchor="end" fill="#1c1c1c">60</text>
<line x1="364.65" y1="463.40" x2="368.15" y2="463.40" stroke="#333" stroke-width="0.80"/>
<text x="362.40" y="465.35" font-size="8.30" text-anchor="end" fill="#1c1c1c">40</text>
<line x1="364.65" y1="505.40" x2="368.15" y2="505.40" stroke="#333" stroke-width="0.80"/>
<text x="362.40" y="507.35" font-size="8.30" text-anchor="end" fill="#1c1c1c">20</text>
<line x1="364.65" y1="547.80" x2="368.15" y2="547.80" stroke="#333" stroke-width="0.80"/>
<text x="362.40" y="549.75" font-size="8.30" text-anchor="end" fill="#1c1c1c">0</text>
<line x1="395.40" y1="418.40" x2="403.60" y2="418.40" stroke="#777" stroke-width="0.70"/>
<text x="399.50" y="418.90" font-size="5.00" text-anchor="middle" fill="#4a4a4a" stroke="none">***</text>
<line x1="416.60" y1="484.40" x2="425.00" y2="484.40" stroke="#777" stroke-width="0.70"/>
<text x="420.80" y="484.90" font-size="5.00" text-anchor="middle" fill="#4a4a4a" stroke="none">***</text>
<line x1="435.40" y1="512.40" x2="444.00" y2="512.40" stroke="#777" stroke-width="0.70"/>
<text x="439.70" y="512.90" font-size="5.00" text-anchor="middle" fill="#4a4a4a" stroke="none">***</text>
<text x="345.40" y="485.50" font-size="9.00" text-anchor="middle" fill="#1c1c1c" transform="rotate(-90 345.40 485.50)">IFN<tspan font-family="Liberation Serif, serif">β</tspan>1 mRNA (fold)</text>
<text x="379.40" y="559.40" font-size="8.30" text-anchor="middle" fill="#1c1c1c">0h</text>
<text x="400.00" y="559.40" font-size="8.30" text-anchor="middle" fill="#1c1c1c">3h</text>
<text x="420.40" y="559.40" font-size="8.30" text-anchor="middle" fill="#1c1c1c">6h</text>
<text x="441.60" y="559.40" font-size="8.30" text-anchor="middle" fill="#1c1c1c">12h</text>
<line x1="527.00" y1="546.40" x2="527.00" y2="546.00" stroke="#444" stroke-width="0.80"/>
<line x1="525.40" y1="546.00" x2="528.60" y2="546.00" stroke="#444" stroke-width="0.80"/>
<rect x="523.85" y="546.40" width="6.30" height="1.10" fill="#f7ba78"/>
<line x1="535.00" y1="546.20" x2="535.00" y2="545.80" stroke="#444" stroke-width="0.80"/>
<line x1="533.40" y1="545.80" x2="536.60" y2="545.80" stroke="#444" stroke-width="0.80"/>
<rect x="531.85" y="546.20" width="6.30" height="1.30" fill="#e84140"/>
<line x1="547.40" y1="546.20" x2="547.40" y2="545.80" stroke="#444" stroke-width="0.80"/>
<line x1="545.80" y1="545.80" x2="549.00" y2="545.80" stroke="#444" stroke-width="0.80"/>
<rect x="544.25" y="546.20" width="6.30" height="1.30" fill="#f7ba78"/>
<line x1="555.40" y1="538.00" x2="555.40" y2="535.60" stroke="#444" stroke-width="0.80"/>
<line x1="553.80" y1="535.60" x2="557.00" y2="535.60" stroke="#444" stroke-width="0.80"/>
<rect x="552.25" y="538.00" width="6.30" height="9.50" fill="#e84140"/>
<line x1="567.40" y1="543.00" x2="567.40" y2="542.60" stroke="#444" stroke-width="0.80"/>
<line x1="565.80" y1="542.60" x2="569.00" y2="542.60" stroke="#444" stroke-width="0.80"/>
<rect x="564.25" y="543.00" width="6.30" height="4.50" fill="#f7ba78"/>
<line x1="575.40" y1="526.40" x2="575.40" y2="523.40" stroke="#444" stroke-width="0.80"/>
<line x1="573.80" y1="523.40" x2="577.00" y2="523.40" stroke="#444" stroke-width="0.80"/>
<rect x="572.25" y="526.40" width="6.30" height="21.10" fill="#e84140"/>
<line x1="587.40" y1="518.60" x2="587.40" y2="518.00" stroke="#444" stroke-width="0.80"/>
<line x1="585.80" y1="518.00" x2="589.00" y2="518.00" stroke="#444" stroke-width="0.80"/>
<rect x="584.25" y="518.60" width="6.30" height="28.90" fill="#f7ba78"/>
<line x1="595.40" y1="439.00" x2="595.40" y2="425.40" stroke="#444" stroke-width="0.80"/>
<line x1="593.80" y1="425.40" x2="597.00" y2="425.40" stroke="#444" stroke-width="0.80"/>
<rect x="592.25" y="439.00" width="6.30" height="108.50" fill="#e84140"/>
<line x1="521.05" y1="421.00" x2="521.05" y2="547.50" stroke="#3c3c3c" stroke-width="0.95"/>
<line x1="517.25" y1="547.50" x2="602.40" y2="547.50" stroke="#3c3c3c" stroke-width="0.95"/>
<line x1="517.25" y1="421.00" x2="520.75" y2="421.00" stroke="#333" stroke-width="0.80"/>
<text x="516.00" y="422.95" font-size="8.30" text-anchor="end" fill="#1c1c1c">100</text>
<line x1="517.25" y1="453.00" x2="520.75" y2="453.00" stroke="#333" stroke-width="0.80"/>
<text x="516.00" y="454.95" font-size="8.30" text-anchor="end" fill="#1c1c1c">75</text>
<line x1="517.25" y1="484.40" x2="520.75" y2="484.40" stroke="#333" stroke-width="0.80"/>
<text x="516.00" y="486.35" font-size="8.30" text-anchor="end" fill="#1c1c1c">50</text>
<line x1="517.25" y1="516.00" x2="520.75" y2="516.00" stroke="#333" stroke-width="0.80"/>
<text x="516.00" y="517.95" font-size="8.30" text-anchor="end" fill="#1c1c1c">25</text>
<line x1="517.25" y1="547.50" x2="520.75" y2="547.50" stroke="#333" stroke-width="0.80"/>
<text x="516.00" y="549.45" font-size="8.30" text-anchor="end" fill="#1c1c1c">0</text>
<line x1="545.60" y1="529.40" x2="554.00" y2="529.40" stroke="#777" stroke-width="0.70"/>
<text x="549.80" y="529.90" font-size="5.00" text-anchor="middle" fill="#4a4a4a" stroke="none">**</text>
<line x1="565.40" y1="517.40" x2="574.00" y2="517.40" stroke="#777" stroke-width="0.70"/>
<text x="569.70" y="517.90" font-size="5.00" text-anchor="middle" fill="#4a4a4a" stroke="none">**</text>
<line x1="586.00" y1="419.40" x2="594.40" y2="419.40" stroke="#777" stroke-width="0.70"/>
<text x="590.20" y="419.90" font-size="5.00" text-anchor="middle" fill="#4a4a4a" stroke="none">**</text>
<text x="497.60" y="483.50" font-size="9.00" text-anchor="middle" fill="#1c1c1c" transform="rotate(-90 497.60 483.50)">PDL1 mRNA (fold)</text>
<text x="531.00" y="559.40" font-size="8.30" text-anchor="middle" fill="#1c1c1c">0h</text>
<text x="551.40" y="559.40" font-size="8.30" text-anchor="middle" fill="#1c1c1c">3h</text>
<text x="571.40" y="559.40" font-size="8.30" text-anchor="middle" fill="#1c1c1c">6h</text>
<text x="592.40" y="559.40" font-size="8.30" text-anchor="middle" fill="#1c1c1c">12h</text>
<text x="617.40" y="429.40" font-size="8.80" text-anchor="start" fill="#1c1c1c">THP-1</text>
<rect x="610.40" y="435.00" width="4.60" height="4.60" fill="#f7ba78"/>
<text x="619.40" y="440.00" font-size="8.70" text-anchor="start" fill="#1c1c1c">IFN-<tspan font-family="Liberation Serif, serif">γ</tspan></text>
<rect x="610.40" y="446.00" width="4.60" height="4.60" fill="#e84140"/>
<text x="619.40" y="451.20" font-size="8.70" text-anchor="start" fill="#1c1c1c">IFN-<tspan font-family="Liberation Serif, serif">γ</tspan>+PP VII</text>
<text x="14.60" y="590.00" font-size="15.50" text-anchor="start" fill="#1c1c1c">g</text>
<text x="82.00" y="587.60" font-size="8.70" text-anchor="start" fill="#1c1c1c">RAW264.7</text>
<text x="182.80" y="587.60" font-size="8.70" text-anchor="start" fill="#1c1c1c">THP-1</text>
<line x1="62.15" y1="716.00" x2="62.15" y2="715.60" stroke="#444" stroke-width="0.80"/>
<line x1="60.55" y1="715.60" x2="63.75" y2="715.60" stroke="#444" stroke-width="0.80"/>
<rect x="58.85" y="716.00" width="6.60" height="2.85" fill="#1e2b5e"/>
<line x1="70.35" y1="716.00" x2="70.35" y2="715.40" stroke="#444" stroke-width="0.80"/>
<line x1="68.75" y1="715.40" x2="71.95" y2="715.40" stroke="#444" stroke-width="0.80"/>
<rect x="67.05" y="716.00" width="6.60" height="2.85" fill="#cfdde3"/>
<line x1="82.75" y1="627.00" x2="82.75" y2="618.40" stroke="#444" stroke-width="0.80"/>
<line x1="81.15" y1="618.40" x2="84.35" y2="618.40" stroke="#444" stroke-width="0.80"/>
<rect x="79.45" y="627.00" width="6.60" height="91.85" fill="#1e2b5e"/>
<line x1="90.95" y1="675.60" x2="90.95" y2="674.60" stroke="#444" stroke-width="0.80"/>
<line x1="89.35" y1="674.60" x2="92.55" y2="674.60" stroke="#444" stroke-width="0.80"/>
<rect x="87.65" y="675.60" width="6.60" height="43.25" fill="#cfdde3"/>
<line x1="103.55" y1="651.40" x2="103.55" y2="646.40" stroke="#444" stroke-width="0.80"/>
<line x1="101.95" y1="646.40" x2="105.15" y2="646.40" stroke="#444" stroke-width="0.80"/>
<rect x="100.25" y="651.40" width="6.60" height="67.45" fill="#1e2b5e"/>
<line x1="111.75" y1="689.00" x2="111.75" y2="684.40" stroke="#444" stroke-width="0.80"/>
<line x1="110.15" y1="684.40" x2="113.35" y2="684.40" stroke="#444" stroke-width="0.80"/>
<rect x="108.45" y="689.00" width="6.60" height="29.85" fill="#cfdde3"/>
<line x1="124.15" y1="667.40" x2="124.15" y2="661.40" stroke="#444" stroke-width="0.80"/>
<line x1="122.55" y1="661.40" x2="125.75" y2="661.40" stroke="#444" stroke-width="0.80"/>
<rect x="120.85" y="667.40" width="6.60" height="51.45" fill="#1e2b5e"/>
<line x1="132.35" y1="701.00" x2="132.35" y2="699.60" stroke="#444" stroke-width="0.80"/>
<line x1="130.75" y1="699.60" x2="133.95" y2="699.60" stroke="#444" stroke-width="0.80"/>
<rect x="129.05" y="701.00" width="6.60" height="17.85" fill="#cfdde3"/>
<line x1="165.15" y1="716.40" x2="165.15" y2="716.00" stroke="#444" stroke-width="0.80"/>
<line x1="163.55" y1="716.00" x2="166.75" y2="716.00" stroke="#444" stroke-width="0.80"/>
<rect x="161.85" y="716.40" width="6.60" height="2.45" fill="#1e2b5e"/>
<line x1="173.35" y1="716.40" x2="173.35" y2="715.60" stroke="#444" stroke-width="0.80"/>
<line x1="171.75" y1="715.60" x2="174.95" y2="715.60" stroke="#444" stroke-width="0.80"/>
<rect x="170.05" y="716.40" width="6.60" height="2.45" fill="#cfdde3"/>
<line x1="185.55" y1="596.40" x2="185.55" y2="596.00" stroke="#444" stroke-width="0.80"/>
<line x1="183.95" y1="596.00" x2="187.15" y2="596.00" stroke="#444" stroke-width="0.80"/>
<rect x="182.25" y="596.40" width="6.60" height="122.45" fill="#1e2b5e"/>
<line x1="193.75" y1="688.40" x2="193.75" y2="686.60" stroke="#444" stroke-width="0.80"/>
<line x1="192.15" y1="686.60" x2="195.35" y2="686.60" stroke="#444" stroke-width="0.80"/>
<rect x="190.45" y="688.40" width="6.60" height="30.45" fill="#cfdde3"/>
<line x1="206.15" y1="651.40" x2="206.15" y2="646.40" stroke="#444" stroke-width="0.80"/>
<line x1="204.55" y1="646.40" x2="207.75" y2="646.40" stroke="#444" stroke-width="0.80"/>
<rect x="202.85" y="651.40" width="6.60" height="67.45" fill="#1e2b5e"/>
<line x1="214.35" y1="694.00" x2="214.35" y2="692.60" stroke="#444" stroke-width="0.80"/>
<line x1="212.75" y1="692.60" x2="215.95" y2="692.60" stroke="#444" stroke-width="0.80"/>
<rect x="211.05" y="694.00" width="6.60" height="24.85" fill="#cfdde3"/>
<line x1="226.75" y1="659.40" x2="226.75" y2="657.40" stroke="#444" stroke-width="0.80"/>
<line x1="225.15" y1="657.40" x2="228.35" y2="657.40" stroke="#444" stroke-width="0.80"/>
<rect x="223.45" y="659.40" width="6.60" height="59.45" fill="#1e2b5e"/>
<line x1="234.95" y1="701.00" x2="234.95" y2="699.40" stroke="#444" stroke-width="0.80"/>
<line x1="233.35" y1="699.40" x2="236.55" y2="699.40" stroke="#444" stroke-width="0.80"/>
<rect x="231.65" y="701.00" width="6.60" height="17.85" fill="#cfdde3"/>
<line x1="55.90" y1="591.05" x2="55.90" y2="718.85" stroke="#3c3c3c" stroke-width="0.95"/>
<line x1="52.00" y1="718.85" x2="249.60" y2="718.85" stroke="#3c3c3c" stroke-width="0.95"/>
<line x1="52.10" y1="591.05" x2="55.60" y2="591.05" stroke="#333" stroke-width="0.80"/>
<text x="50.00" y="593.00" font-size="8.30" text-anchor="end" fill="#1c1c1c">50</text>
<line x1="52.10" y1="616.50" x2="55.60" y2="616.50" stroke="#333" stroke-width="0.80"/>
<text x="50.00" y="618.45" font-size="8.30" text-anchor="end" fill="#1c1c1c">40</text>
<line x1="52.10" y1="642.20" x2="55.60" y2="642.20" stroke="#333" stroke-width="0.80"/>
<text x="50.00" y="644.15" font-size="8.30" text-anchor="end" fill="#1c1c1c">30</text>
<line x1="52.10" y1="667.70" x2="55.60" y2="667.70" stroke="#333" stroke-width="0.80"/>
<text x="50.00" y="669.65" font-size="8.30" text-anchor="end" fill="#1c1c1c">20</text>
<line x1="52.10" y1="693.30" x2="55.60" y2="693.30" stroke="#333" stroke-width="0.80"/>
<text x="50.00" y="695.25" font-size="8.30" text-anchor="end" fill="#1c1c1c">10</text>
<line x1="52.10" y1="718.85" x2="55.60" y2="718.85" stroke="#333" stroke-width="0.80"/>
<text x="50.00" y="720.80" font-size="8.30" text-anchor="end" fill="#1c1c1c">0</text>
<line x1="83.60" y1="615.40" x2="92.00" y2="615.40" stroke="#777" stroke-width="0.70"/>
<text x="87.80" y="615.90" font-size="5.00" text-anchor="middle" fill="#4a4a4a" stroke="none">**</text>
<line x1="104.60" y1="642.60" x2="113.20" y2="642.60" stroke="#777" stroke-width="0.70"/>
<text x="108.90" y="643.10" font-size="5.00" text-anchor="middle" fill="#4a4a4a" stroke="none">**</text>
<line x1="125.00" y1="657.40" x2="134.00" y2="657.40" stroke="#777" stroke-width="0.70"/>
<text x="129.50" y="657.90" font-size="5.00" text-anchor="middle" fill="#4a4a4a" stroke="none">**</text>
<line x1="186.00" y1="593.40" x2="194.40" y2="593.40" stroke="#777" stroke-width="0.70"/>
<text x="190.20" y="593.90" font-size="5.00" text-anchor="middle" fill="#4a4a4a" stroke="none">***</text>
<line x1="207.40" y1="642.60" x2="216.00" y2="642.60" stroke="#777" stroke-width="0.70"/>
<text x="211.70" y="643.10" font-size="5.00" text-anchor="middle" fill="#4a4a4a" stroke="none">***</text>
<line x1="227.60" y1="653.40" x2="236.00" y2="653.40" stroke="#777" stroke-width="0.70"/>
<text x="231.80" y="653.90" font-size="5.00" text-anchor="middle" fill="#4a4a4a" stroke="none">***</text>
<text x="32.60" y="647.50" font-size="9.00" text-anchor="middle" fill="#1c1c1c" transform="rotate(-90 32.60 647.50)">IL-10 mRNA (fold)</text>
<text x="67.40" y="729.90" font-size="8.30" text-anchor="middle" fill="#1c1c1c">0h</text>
<text x="88.00" y="729.90" font-size="8.30" text-anchor="middle" fill="#1c1c1c">3h</text>
<text x="108.40" y="729.90" font-size="8.30" text-anchor="middle" fill="#1c1c1c">6h</text>
<text x="128.80" y="729.90" font-size="8.30" text-anchor="middle" fill="#1c1c1c">12h</text>
<text x="166.60" y="729.90" font-size="8.30" text-anchor="middle" fill="#1c1c1c">0h</text>
<text x="187.00" y="729.90" font-size="8.30" text-anchor="middle" fill="#1c1c1c">3h</text>
<text x="207.40" y="729.90" font-size="8.30" text-anchor="middle" fill="#1c1c1c">6h</text>
<text x="228.00" y="729.90" font-size="8.30" text-anchor="middle" fill="#1c1c1c">12h</text>
<line x1="149.40" y1="591.00" x2="149.40" y2="718.60" stroke="#222" stroke-width="0.90" stroke-dasharray="3 3"/>
<text x="392.40" y="587.60" font-size="8.70" text-anchor="start" fill="#1c1c1c">RAW264.7</text>
<text x="499.60" y="587.60" font-size="8.70" text-anchor="start" fill="#1c1c1c">THP-1</text>
<line x1="374.80" y1="677.00" x2="374.80" y2="674.40" stroke="#444" stroke-width="0.80"/>
<line x1="373.20" y1="674.40" x2="376.40" y2="674.40" stroke="#444" stroke-width="0.80"/>
<rect x="371.45" y="677.00" width="6.70" height="42.30" fill="#1e2b5e"/>
<line x1="383.10" y1="677.00" x2="383.10" y2="674.40" stroke="#444" stroke-width="0.80"/>
<line x1="381.50" y1="674.40" x2="384.70" y2="674.40" stroke="#444" stroke-width="0.80"/>
<rect x="379.75" y="677.00" width="6.70" height="42.30" fill="#cfdde3"/>
<line x1="395.20" y1="663.00" x2="395.20" y2="658.60" stroke="#444" stroke-width="0.80"/>
<line x1="393.60" y1="658.60" x2="396.80" y2="658.60" stroke="#444" stroke-width="0.80"/>
<rect x="391.85" y="663.00" width="6.70" height="56.30" fill="#1e2b5e"/>
<line x1="403.50" y1="671.00" x2="403.50" y2="667.40" stroke="#444" stroke-width="0.80"/>
<line x1="401.90" y1="667.40" x2="405.10" y2="667.40" stroke="#444" stroke-width="0.80"/>
<rect x="400.15" y="671.00" width="6.70" height="48.30" fill="#cfdde3"/>
<line x1="416.20" y1="642.00" x2="416.20" y2="637.60" stroke="#444" stroke-width="0.80"/>
<line x1="414.60" y1="637.60" x2="417.80" y2="637.60" stroke="#444" stroke-width="0.80"/>
<rect x="412.85" y="642.00" width="6.70" height="77.30" fill="#1e2b5e"/>
<line x1="424.50" y1="663.00" x2="424.50" y2="655.60" stroke="#444" stroke-width="0.80"/>
<line x1="422.90" y1="655.60" x2="426.10" y2="655.60" stroke="#444" stroke-width="0.80"/>
<rect x="421.15" y="663.00" width="6.70" height="56.30" fill="#cfdde3"/>
<line x1="436.60" y1="619.40" x2="436.60" y2="610.40" stroke="#444" stroke-width="0.80"/>
<line x1="435.00" y1="610.40" x2="438.20" y2="610.40" stroke="#444" stroke-width="0.80"/>
<rect x="433.25" y="619.40" width="6.70" height="99.90" fill="#1e2b5e"/>
<line x1="444.90" y1="642.40" x2="444.90" y2="642.00" stroke="#444" stroke-width="0.80"/>
<line x1="443.30" y1="642.00" x2="446.50" y2="642.00" stroke="#444" stroke-width="0.80"/>
<rect x="441.55" y="642.40" width="6.70" height="76.90" fill="#cfdde3"/>
<line x1="477.20" y1="676.60" x2="477.20" y2="672.40" stroke="#444" stroke-width="0.80"/>
<line x1="475.60" y1="672.40" x2="478.80" y2="672.40" stroke="#444" stroke-width="0.80"/>
<rect x="473.85" y="676.60" width="6.70" height="42.70" fill="#1e2b5e"/>
<line x1="485.50" y1="675.00" x2="485.50" y2="671.00" stroke="#444" stroke-width="0.80"/>
<line x1="483.90" y1="671.00" x2="487.10" y2="671.00" stroke="#444" stroke-width="0.80"/>
<rect x="482.15" y="675.00" width="6.70" height="44.30" fill="#cfdde3"/>
<line x1="498.20" y1="666.60" x2="498.20" y2="663.40" stroke="#444" stroke-width="0.80"/>
<line x1="496.60" y1="663.40" x2="499.80" y2="663.40" stroke="#444" stroke-width="0.80"/>
<rect x="494.85" y="666.60" width="6.70" height="52.70" fill="#1e2b5e"/>
<line x1="506.50" y1="673.60" x2="506.50" y2="669.60" stroke="#444" stroke-width="0.80"/>
<line x1="504.90" y1="669.60" x2="508.10" y2="669.60" stroke="#444" stroke-width="0.80"/>
<rect x="503.15" y="673.60" width="6.70" height="45.70" fill="#cfdde3"/>
<line x1="519.20" y1="639.60" x2="519.20" y2="628.60" stroke="#444" stroke-width="0.80"/>
<line x1="517.60" y1="628.60" x2="520.80" y2="628.60" stroke="#444" stroke-width="0.80"/>
<rect x="515.85" y="639.60" width="6.70" height="79.70" fill="#1e2b5e"/>
<line x1="527.50" y1="663.00" x2="527.50" y2="658.60" stroke="#444" stroke-width="0.80"/>
<line x1="525.90" y1="658.60" x2="529.10" y2="658.60" stroke="#444" stroke-width="0.80"/>
<rect x="524.15" y="663.00" width="6.70" height="56.30" fill="#cfdde3"/>
<line x1="540.20" y1="620.00" x2="540.20" y2="608.40" stroke="#444" stroke-width="0.80"/>
<line x1="538.60" y1="608.40" x2="541.80" y2="608.40" stroke="#444" stroke-width="0.80"/>
<rect x="536.85" y="620.00" width="6.70" height="99.30" fill="#1e2b5e"/>
<line x1="548.50" y1="645.60" x2="548.50" y2="641.60" stroke="#444" stroke-width="0.80"/>
<line x1="546.90" y1="641.60" x2="550.10" y2="641.60" stroke="#444" stroke-width="0.80"/>
<rect x="545.15" y="645.60" width="6.70" height="73.70" fill="#cfdde3"/>
<line x1="368.45" y1="591.60" x2="368.45" y2="719.30" stroke="#3c3c3c" stroke-width="0.95"/>
<line x1="365.10" y1="719.30" x2="563.00" y2="719.30" stroke="#3c3c3c" stroke-width="0.95"/>
<line x1="364.65" y1="591.60" x2="368.15" y2="591.60" stroke="#333" stroke-width="0.80"/>
<text x="362.80" y="593.55" font-size="8.30" text-anchor="end" fill="#1c1c1c">3</text>
<line x1="364.65" y1="634.20" x2="368.15" y2="634.20" stroke="#333" stroke-width="0.80"/>
<text x="362.80" y="636.15" font-size="8.30" text-anchor="end" fill="#1c1c1c">2</text>
<line x1="364.65" y1="676.80" x2="368.15" y2="676.80" stroke="#333" stroke-width="0.80"/>
<text x="362.80" y="678.75" font-size="8.30" text-anchor="end" fill="#1c1c1c">1</text>
<line x1="364.65" y1="719.30" x2="368.15" y2="719.30" stroke="#333" stroke-width="0.80"/>
<text x="362.80" y="721.25" font-size="8.30" text-anchor="end" fill="#1c1c1c">0</text>
<line x1="375.00" y1="604.40" x2="436.60" y2="604.40" stroke="#777" stroke-width="0.70"/>
<text x="405.80" y="604.90" font-size="5.00" text-anchor="middle" fill="#4a4a4a" stroke="none">***</text>
<line x1="437.00" y1="600.00" x2="445.40" y2="600.00" stroke="#777" stroke-width="0.70"/>
<text x="441.20" y="600.50" font-size="5.00" text-anchor="middle" fill="#4a4a4a" stroke="none">*</text>
<line x1="375.00" y1="627.40" x2="415.60" y2="627.40" stroke="#777" stroke-width="0.70"/>
<text x="395.30" y="627.90" font-size="5.00" text-anchor="middle" fill="#4a4a4a" stroke="none">***</text>
<line x1="416.40" y1="624.40" x2="424.00" y2="624.40" stroke="#777" stroke-width="0.70"/>
<text x="420.20" y="624.90" font-size="5.00" text-anchor="middle" fill="#4a4a4a" stroke="none">*</text>
<line x1="383.00" y1="645.00" x2="403.60" y2="645.00" stroke="#777" stroke-width="0.70"/>
<text x="393.30" y="643.40" font-size="5.00" text-anchor="middle" fill="#333" stroke="none">ns</text>
<line x1="375.00" y1="650.40" x2="395.00" y2="650.40" stroke="#777" stroke-width="0.70"/>
<text x="385.00" y="650.90" font-size="5.00" text-anchor="middle" fill="#4a4a4a" stroke="none">*</text>
<line x1="477.00" y1="603.40" x2="540.00" y2="603.40" stroke="#777" stroke-width="0.70"/>
<text x="508.50" y="603.90" font-size="5.00" text-anchor="middle" fill="#4a4a4a" stroke="none">*</text>
<line x1="540.40" y1="599.60" x2="548.40" y2="599.60" stroke="#777" stroke-width="0.70"/>
<text x="544.40" y="600.10" font-size="5.00" text-anchor="middle" fill="#4a4a4a" stroke="none">*</text>
<line x1="477.00" y1="624.40" x2="519.00" y2="624.40" stroke="#777" stroke-width="0.70"/>
<text x="498.00" y="624.90" font-size="5.00" text-anchor="middle" fill="#4a4a4a" stroke="none">*</text>
<line x1="519.40" y1="621.00" x2="527.60" y2="621.00" stroke="#777" stroke-width="0.70"/>
<text x="523.50" y="621.50" font-size="5.00" text-anchor="middle" fill="#4a4a4a" stroke="none">**</text>
<text x="345.50" y="651.50" font-size="9.00" text-anchor="middle" fill="#1c1c1c" transform="rotate(-90 345.50 651.50)">TGF<tspan font-family="Liberation Serif, serif">β</tspan>1 mRNA (fold)</text>
<text x="379.60" y="729.90" font-size="8.30" text-anchor="middle" fill="#1c1c1c">0h</text>
<text x="400.40" y="729.90" font-size="8.30" text-anchor="middle" fill="#1c1c1c">3h</text>
<text x="421.00" y="729.90" font-size="8.30" text-anchor="middle" fill="#1c1c1c">6h</text>
<text x="439.60" y="729.90" font-size="8.30" text-anchor="middle" fill="#1c1c1c">12h</text>
<text x="481.60" y="729.90" font-size="8.30" text-anchor="middle" fill="#1c1c1c">0h</text>
<text x="502.40" y="729.90" font-size="8.30" text-anchor="middle" fill="#1c1c1c">3h</text>
<text x="522.60" y="729.90" font-size="8.30" text-anchor="middle" fill="#1c1c1c">6h</text>
<text x="542.80" y="729.90" font-size="8.30" text-anchor="middle" fill="#1c1c1c">12h</text>
<line x1="461.50" y1="591.00" x2="461.50" y2="719.00" stroke="#222" stroke-width="0.90" stroke-dasharray="3 3"/>
<rect x="570.00" y="594.00" width="4.50" height="4.50" fill="#1e2b5e"/>
<text x="578.60" y="598.70" font-size="8.50" text-anchor="start" fill="#1c1c1c">IL-6</text>
<rect x="570.00" y="604.00" width="4.50" height="4.50" fill="#cfdde3"/>
<text x="578.60" y="609.00" font-size="8.50" text-anchor="start" fill="#1c1c1c">IL-6+PP VII</text>
</svg>
</body></html>
